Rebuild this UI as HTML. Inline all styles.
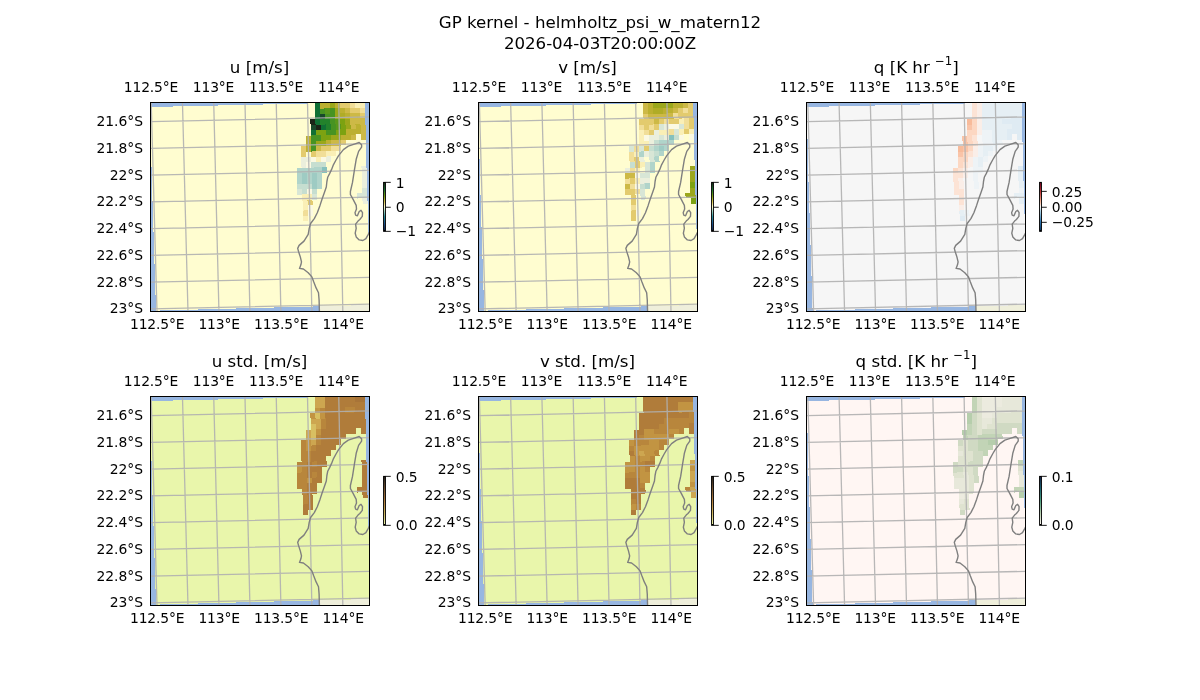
<!DOCTYPE html>
<html lang="en"><head><meta charset="utf-8"><title>GP kernel - helmholtz_psi_w_matern12</title>
<style>html,body{margin:0;padding:0;background:#fff}body{width:1200px;height:700px;overflow:hidden}svg{display:block;will-change:transform}text{font-family:"DejaVu Sans","Liberation Sans",sans-serif;fill:#000}.t{font-size:16.67px}.k{font-size:13.89px;letter-spacing:-0.16px}.l{letter-spacing:0}</style></head><body>
<svg width="1200" height="700" viewBox="0 0 1200 700">
<rect width="1200" height="700" fill="#fff"/>
<text class="t" x="600" y="27.5" text-anchor="middle">GP kernel - helmholtz_psi_w_matern12</text>
<text class="t" x="600" y="49" text-anchor="middle" style="letter-spacing:-0.06px">2026-04-03T20:00:00Z</text>
<g transform="translate(150.5,102.5)">
<clipPath id="c0"><rect x="0" y="0" width="219" height="209"/></clipPath>
<g clip-path="url(#c0)"><g transform="translate(0,0)">
<rect x="-2" y="-2" width="223" height="213" fill="#97b6e1"/>
<polygon points="168.9,209 168.6,197.5 168,190.2 165.6,185.4 163.2,179.3 161.4,174.4 157.7,170.2 152.9,166.5 149,165.9 150.4,162.3 151,159.3 149.8,154.4 148,148.9 147.2,145.9 148.6,142.9 153.5,138.6 157.7,131.9 158.7,125.9 160.1,121 163.8,116.1 166.8,110.2 169.5,102.9 171.5,96.8 174,89.7 175.8,84.5 176.4,79 177.2,74.8 179.1,71.1 181.1,66.9 183,62.1 185.5,57.5 188.1,53.1 192.9,47.1 197.8,43.7 203.9,41.6 208.7,40 211.1,42.2 211.1,44.6 208.1,48.9 205.7,56.8 203.9,67.7 202,79.9 199.9,89 199.9,92 202.6,96.9 205.7,102.9 206,106.6 204.5,110.2 205.1,112.6 206.9,113.3 208.7,109 210.5,107.8 212,110.2 211.8,113.9 209.3,117 207.5,118.6 205.1,121.6 205.7,125.9 204.7,130.7 205.7,134.4 208.7,137.4 212.4,138 215.4,136.2 217.8,131.9 220,127.5 221,211" fill="#efefdb"/>
<polygon points="5.5,208.1 5.33,202.74 5.16,197.38 4.99,192.03 4.82,186.67 4.65,181.31 4.48,175.95 4.31,170.59 4.14,165.24 3.97,159.88 3.8,154.52 3.63,149.16 3.46,143.81 3.29,138.45 3.12,133.09 2.95,127.73 2.78,122.37 2.61,117.02 2.44,111.66 2.27,106.3 2.1,100.94 1.93,95.58 1.76,90.23 1.59,84.87 1.42,79.51 1.25,74.15 1.11,68.79 0.99,63.44 0.88,58.08 0.76,52.72 0.64,47.36 0.52,42.01 0.41,36.65 0.29,31.29 0.17,25.93 0.05,20.57 -0.06,15.22 -0.18,9.86 -0.3,4.5 214.47,-0.25 214.6,5.09 214.72,10.42 214.85,15.76 214.97,21.09 215.1,26.43 215.22,31.76 215.35,37.1 215.47,42.43 215.6,47.77 215.73,53.11 215.85,58.44 215.98,63.78 216.12,69.11 216.28,74.45 216.44,79.78 216.6,85.12 216.77,90.45 216.93,95.79 217.09,101.12 217.25,106.46 217.41,111.8 217.57,117.13 217.73,122.47 217.89,127.8 218.05,133.14 218.22,138.47 218.38,143.81 218.54,149.14 218.7,154.48 218.86,159.82 219.02,165.15 219.18,170.49 219.34,175.82 219.51,181.16 219.67,186.49 219.83,191.83 219.99,197.16 220.15,202.5" fill="#fffdd0" shape-rendering="crispEdges"/>
<g shape-rendering="crispEdges">
<polygon points="164.52,0.85 169.52,0.74 169.64,6.08 164.65,6.2" fill="#107034"/>
<polygon points="169.52,0.74 174.51,0.63 174.64,5.97 169.64,6.08" fill="#bcb030"/>
<polygon points="174.51,0.63 179.51,0.52 179.63,5.86 174.64,5.97" fill="#bcb030"/>
<polygon points="179.51,0.52 184.5,0.41 184.63,5.75 179.63,5.86" fill="#9ba71b"/>
<polygon points="184.5,0.41 189.5,0.3 189.62,5.64 184.63,5.75" fill="#bcb030"/>
<polygon points="189.5,0.3 194.49,0.19 194.62,5.53 189.62,5.64" fill="#e3cb6e"/>
<polygon points="194.49,0.19 199.49,0.08 199.61,5.42 194.62,5.53" fill="#e3cb6e"/>
<polygon points="199.49,0.08 204.48,-0.03 204.61,5.31 199.61,5.42" fill="#f1de98"/>
<polygon points="204.48,-0.03 209.48,-0.14 209.6,5.2 204.61,5.31" fill="#faefb6"/>
<polygon points="209.48,-0.14 214.47,-0.25 214.6,5.09 209.6,5.2" fill="#faefb6"/>
<polygon points="164.65,6.2 169.64,6.08 169.77,11.42 164.77,11.54" fill="#107034"/>
<polygon points="169.64,6.08 174.64,5.97 174.76,11.31 169.77,11.42" fill="#479322"/>
<polygon points="174.64,5.97 179.63,5.86 179.76,11.2 174.76,11.31" fill="#5a981b"/>
<polygon points="179.63,5.86 184.63,5.75 184.75,11.09 179.76,11.2" fill="#479322"/>
<polygon points="184.63,5.75 189.62,5.64 189.75,10.98 184.75,11.09" fill="#9ba71b"/>
<polygon points="189.62,5.64 194.62,5.53 194.74,10.87 189.75,10.98" fill="#bcb030"/>
<polygon points="194.62,5.53 199.61,5.42 199.74,10.76 194.74,10.87" fill="#cdb946"/>
<polygon points="199.61,5.42 204.61,5.31 204.73,10.64 199.74,10.76" fill="#e3cb6e"/>
<polygon points="204.61,5.31 209.6,5.2 209.73,10.53 204.73,10.64" fill="#e3cb6e"/>
<polygon points="209.6,5.2 214.6,5.09 214.72,10.42 209.73,10.53" fill="#f1de98"/>
<polygon points="164.77,11.54 169.77,11.42 169.89,16.76 164.89,16.88" fill="#107034"/>
<polygon points="169.77,11.42 174.76,11.31 174.89,16.65 169.89,16.76" fill="#18482a"/>
<polygon points="174.76,11.31 179.76,11.2 179.88,16.54 174.89,16.65" fill="#479322"/>
<polygon points="179.76,11.2 184.75,11.09 184.88,16.43 179.88,16.54" fill="#479322"/>
<polygon points="184.75,11.09 189.75,10.98 189.87,16.32 184.88,16.43" fill="#9ba71b"/>
<polygon points="189.75,10.98 194.74,10.87 194.87,16.2 189.87,16.32" fill="#b0ac26"/>
<polygon points="194.74,10.87 199.74,10.76 199.86,16.09 194.87,16.2" fill="#bcb030"/>
<polygon points="199.74,10.76 204.73,10.64 204.86,15.98 199.86,16.09" fill="#cdb946"/>
<polygon points="204.73,10.64 209.73,10.53 209.85,15.87 204.86,15.98" fill="#cdb946"/>
<polygon points="209.73,10.53 214.72,10.42 214.85,15.76 209.85,15.87" fill="#e3cb6e"/>
<polygon points="159.9,16.99 164.89,16.88 165.02,22.22 160.02,22.33" fill="#1b2517"/>
<polygon points="164.89,16.88 169.89,16.76 170.01,22.11 165.02,22.22" fill="#107034"/>
<polygon points="169.89,16.76 174.89,16.65 175.01,21.99 170.01,22.11" fill="#23822b"/>
<polygon points="174.89,16.65 179.88,16.54 180,21.88 175.01,21.99" fill="#23822b"/>
<polygon points="179.88,16.54 184.88,16.43 185,21.77 180,21.88" fill="#479322"/>
<polygon points="184.88,16.43 189.87,16.32 190,21.65 185,21.77" fill="#5a981b"/>
<polygon points="189.87,16.32 194.87,16.2 194.99,21.54 190,21.65" fill="#7ca211"/>
<polygon points="194.87,16.2 199.86,16.09 199.99,21.43 194.99,21.54" fill="#9ba71b"/>
<polygon points="199.86,16.09 204.86,15.98 204.98,21.32 199.99,21.43" fill="#cdb946"/>
<polygon points="204.86,15.98 209.85,15.87 209.98,21.2 204.98,21.32" fill="#cdb946"/>
<polygon points="209.85,15.87 214.85,15.76 214.97,21.09 209.98,21.2" fill="#cdb946"/>
<polygon points="160.02,22.33 165.02,22.22 165.14,27.56 160.15,27.67" fill="#18482a"/>
<polygon points="165.02,22.22 170.01,22.11 170.14,27.45 165.14,27.56" fill="#1b2517"/>
<polygon points="170.01,22.11 175.01,21.99 175.13,27.33 170.14,27.45" fill="#107034"/>
<polygon points="175.01,21.99 180,21.88 180.13,27.22 175.13,27.33" fill="#23822b"/>
<polygon points="180,21.88 185,21.77 185.12,27.11 180.13,27.22" fill="#479322"/>
<polygon points="185,21.77 190,21.65 190.12,26.99 185.12,27.11" fill="#5a981b"/>
<polygon points="190,21.65 194.99,21.54 195.12,26.88 190.12,26.99" fill="#7ca211"/>
<polygon points="194.99,21.54 199.99,21.43 200.11,26.77 195.12,26.88" fill="#9ba71b"/>
<polygon points="199.99,21.43 204.98,21.32 205.11,26.65 200.11,26.77" fill="#cdb946"/>
<polygon points="204.98,21.32 209.98,21.2 210.1,26.54 205.11,26.65" fill="#bcb030"/>
<polygon points="209.98,21.2 214.97,21.09 215.1,26.43 210.1,26.54" fill="#cdb946"/>
<polygon points="160.15,27.67 165.14,27.56 165.27,32.9 160.27,33.01" fill="#107034"/>
<polygon points="165.14,27.56 170.14,27.45 170.26,32.79 165.27,32.9" fill="#7ca211"/>
<polygon points="170.14,27.45 175.13,27.33 175.26,32.67 170.26,32.79" fill="#7ca211"/>
<polygon points="175.13,27.33 180.13,27.22 180.25,32.56 175.26,32.67" fill="#479322"/>
<polygon points="180.13,27.22 185.12,27.11 185.25,32.44 180.25,32.56" fill="#479322"/>
<polygon points="185.12,27.11 190.12,26.99 190.24,32.33 185.25,32.44" fill="#7ca211"/>
<polygon points="190.12,26.99 195.12,26.88 195.24,32.22 190.24,32.33" fill="#7ca211"/>
<polygon points="195.12,26.88 200.11,26.77 200.24,32.1 195.24,32.22" fill="#bcb030"/>
<polygon points="200.11,26.77 205.11,26.65 205.23,31.99 200.24,32.1" fill="#bcb030"/>
<polygon points="205.11,26.65 210.1,26.54 210.23,31.88 205.23,31.99" fill="#bcb030"/>
<polygon points="210.1,26.54 215.1,26.43 215.22,31.76 210.23,31.88" fill="#cdb946"/>
<polygon points="155.27,33.13 160.27,33.01 160.39,38.35 155.4,38.47" fill="#bcb030"/>
<polygon points="160.27,33.01 165.27,32.9 165.39,38.24 160.39,38.35" fill="#479322"/>
<polygon points="165.27,32.9 170.26,32.79 170.39,38.13 165.39,38.24" fill="#479322"/>
<polygon points="170.26,32.79 175.26,32.67 175.38,38.01 170.39,38.13" fill="#7ca211"/>
<polygon points="175.26,32.67 180.25,32.56 180.38,37.9 175.38,38.01" fill="#7ca211"/>
<polygon points="180.25,32.56 185.25,32.44 185.37,37.78 180.38,37.9" fill="#9ba71b"/>
<polygon points="185.25,32.44 190.24,32.33 190.37,37.67 185.37,37.78" fill="#9ba71b"/>
<polygon points="190.24,32.33 195.24,32.22 195.37,37.56 190.37,37.67" fill="#bcb030"/>
<polygon points="195.24,32.22 200.24,32.1 200.36,37.44 195.37,37.56" fill="#bcb030"/>
<polygon points="200.24,32.1 205.23,31.99 205.36,37.33 200.36,37.44" fill="#cdb946"/>
<polygon points="210.23,31.88 215.22,31.76 215.35,37.1 210.35,37.21" fill="#cdb946"/>
<polygon points="155.4,38.47 160.39,38.35 160.52,43.7 155.52,43.81" fill="#bcb030"/>
<polygon points="160.39,38.35 165.39,38.24 165.51,43.58 160.52,43.7" fill="#479322"/>
<polygon points="165.39,38.24 170.39,38.13 170.51,43.47 165.51,43.58" fill="#9ba71b"/>
<polygon points="170.39,38.13 175.38,38.01 175.51,43.35 170.51,43.47" fill="#9ba71b"/>
<polygon points="175.38,38.01 180.38,37.9 180.5,43.24 175.51,43.35" fill="#bcb030"/>
<polygon points="180.38,37.9 185.37,37.78 185.5,43.12 180.5,43.24" fill="#cdb946"/>
<polygon points="185.37,37.78 190.37,37.67 190.49,43.01 185.5,43.12" fill="#cdb946"/>
<polygon points="190.37,37.67 195.37,37.56 195.49,42.89 190.49,43.01" fill="#e3cb6e"/>
<polygon points="150.52,43.92 155.52,43.81 155.64,49.15 150.65,49.27" fill="#e3cb6e"/>
<polygon points="155.52,43.81 160.52,43.7 160.64,49.04 155.64,49.15" fill="#bcb030"/>
<polygon points="160.52,43.7 165.51,43.58 165.64,48.92 160.64,49.04" fill="#479322"/>
<polygon points="165.51,43.58 170.51,43.47 170.63,48.81 165.64,48.92" fill="#cdb946"/>
<polygon points="170.51,43.47 175.51,43.35 175.63,48.69 170.63,48.81" fill="#e3cb6e"/>
<polygon points="175.51,43.35 180.5,43.24 180.63,48.58 175.63,48.69" fill="#e3cb6e"/>
<polygon points="180.5,43.24 185.5,43.12 185.62,48.46 180.63,48.58" fill="#f1de98"/>
<polygon points="185.5,43.12 190.49,43.01 190.62,48.35 185.62,48.46" fill="#f1de98"/>
<polygon points="150.65,49.27 155.64,49.15 155.77,54.49 150.77,54.61" fill="#e3cb6e"/>
<polygon points="160.64,49.04 165.64,48.92 165.76,54.26 160.76,54.38" fill="#e3cb6e"/>
<polygon points="165.64,48.92 170.63,48.81 170.76,54.15 165.76,54.26" fill="#f1de98"/>
<polygon points="170.63,48.81 175.63,48.69 175.75,54.03 170.76,54.15" fill="#f1de98"/>
<polygon points="175.63,48.69 180.63,48.58 180.75,53.91 175.75,54.03" fill="#faefb6"/>
<polygon points="180.63,48.58 185.62,48.46 185.75,53.8 180.75,53.91" fill="#faefb6"/>
<polygon points="150.77,54.61 155.77,54.49 155.89,59.84 150.89,59.95" fill="#ebefdc"/>
<polygon points="155.77,54.49 160.76,54.38 160.89,59.72 155.89,59.84" fill="#ebefdc"/>
<polygon points="160.76,54.38 165.76,54.26 165.88,59.6 160.89,59.72" fill="#fbf9e2"/>
<polygon points="165.76,54.26 170.76,54.15 170.88,59.49 165.88,59.6" fill="#faefb6"/>
<polygon points="170.76,54.15 175.75,54.03 175.88,59.37 170.88,59.49" fill="#fbf9e2"/>
<polygon points="175.75,54.03 180.75,53.91 180.87,59.25 175.88,59.37" fill="#ebefdc"/>
<polygon points="150.89,59.95 155.89,59.84 156.01,65.18 151.02,65.29" fill="#ebefdc"/>
<polygon points="155.89,59.84 160.89,59.72 161.01,65.06 156.01,65.18" fill="#fbf9e2"/>
<polygon points="160.89,59.72 165.88,59.6 166.01,64.94 161.01,65.06" fill="#c6ded0"/>
<polygon points="165.88,59.6 170.88,59.49 171.01,64.83 166.01,64.94" fill="#c6ded0"/>
<polygon points="170.88,59.49 175.88,59.37 176,64.71 171.01,64.83" fill="#c6ded0"/>
<polygon points="146.02,65.41 151.02,65.29 151.16,70.64 146.16,70.75" fill="#b0d4ca"/>
<polygon points="151.02,65.29 156.01,65.18 156.16,70.52 151.16,70.64" fill="#b0d4ca"/>
<polygon points="156.01,65.18 161.01,65.06 161.15,70.4 156.16,70.52" fill="#b0d4ca"/>
<polygon points="161.01,65.06 166.01,64.94 166.15,70.28 161.15,70.4" fill="#b0d4ca"/>
<polygon points="166.01,64.94 171.01,64.83 171.15,70.17 166.15,70.28" fill="#b0d4ca"/>
<polygon points="171.01,64.83 176,64.71 176.15,70.05 171.15,70.17" fill="#86c1bd"/>
<polygon points="210.98,63.89 215.98,63.78 216.12,69.11 211.12,69.23" fill="#ebefdc"/>
<polygon points="146.16,70.75 151.16,70.64 151.32,75.98 146.33,76.1" fill="#b0d4ca"/>
<polygon points="151.16,70.64 156.16,70.52 156.32,75.86 151.32,75.98" fill="#9ecbc3"/>
<polygon points="156.16,70.52 161.15,70.4 161.32,75.74 156.32,75.86" fill="#b0d4ca"/>
<polygon points="161.15,70.4 166.15,70.28 166.31,75.62 161.32,75.74" fill="#9ecbc3"/>
<polygon points="166.15,70.28 171.15,70.17 171.31,75.51 166.31,75.62" fill="#b0d4ca"/>
<polygon points="211.12,69.23 216.12,69.11 216.28,74.45 211.28,74.57" fill="#ebefdc"/>
<polygon points="146.33,76.1 151.32,75.98 151.49,81.32 146.49,81.44" fill="#b0d4ca"/>
<polygon points="151.32,75.98 156.32,75.86 156.48,81.2 151.49,81.32" fill="#9ecbc3"/>
<polygon points="156.32,75.86 161.32,75.74 161.48,81.08 156.48,81.2" fill="#b0d4ca"/>
<polygon points="161.32,75.74 166.31,75.62 166.48,80.97 161.48,81.08" fill="#9ecbc3"/>
<polygon points="166.31,75.62 171.31,75.51 171.47,80.85 166.48,80.97" fill="#b0d4ca"/>
<polygon points="211.28,74.57 216.28,74.45 216.44,79.78 211.45,79.9" fill="#ebefdc"/>
<polygon points="146.49,81.44 151.49,81.32 151.65,86.66 146.66,86.78" fill="#c6ded0"/>
<polygon points="151.49,81.32 156.48,81.2 156.65,86.54 151.65,86.66" fill="#c6ded0"/>
<polygon points="156.48,81.2 161.48,81.08 161.64,86.43 156.65,86.54" fill="#c6ded0"/>
<polygon points="161.48,81.08 166.48,80.97 166.64,86.31 161.64,86.43" fill="#9ecbc3"/>
<polygon points="166.48,80.97 171.47,80.85 171.64,86.19 166.64,86.31" fill="#b0d4ca"/>
<polygon points="211.45,79.9 216.44,79.78 216.6,85.12 211.61,85.24" fill="#ebefdc"/>
<polygon points="146.66,86.78 151.65,86.66 151.82,92 146.82,92.12" fill="#d8e6d6"/>
<polygon points="151.65,86.66 156.65,86.54 156.81,91.89 151.82,92" fill="#c6ded0"/>
<polygon points="156.65,86.54 161.64,86.43 161.81,91.77 156.81,91.89" fill="#fbf9e2"/>
<polygon points="161.64,86.43 166.64,86.31 166.8,91.65 161.81,91.77" fill="#c6ded0"/>
<polygon points="211.61,85.24 216.6,85.12 216.77,90.45 211.77,90.57" fill="#d8e6d6"/>
<polygon points="151.82,92 156.81,91.89 156.98,97.23 151.98,97.35" fill="#faefb6"/>
<polygon points="156.81,91.89 161.81,91.77 161.97,97.11 156.98,97.23" fill="#faefb6"/>
<polygon points="161.81,91.77 166.8,91.65 166.97,96.99 161.97,97.11" fill="#d8e6d6"/>
<polygon points="206.77,90.69 211.77,90.57 211.93,95.91 206.93,96.03" fill="#d8e6d6"/>
<polygon points="211.77,90.57 216.77,90.45 216.93,95.79 211.93,95.91" fill="#d8e6d6"/>
<polygon points="151.98,97.35 156.98,97.23 157.14,102.57 152.14,102.69" fill="#faefb6"/>
<polygon points="156.98,97.23 161.97,97.11 162.14,102.45 157.14,102.57" fill="#e3cb6e"/>
<polygon points="211.93,95.91 216.93,95.79 217.09,101.12 212.09,101.25" fill="#ebefdc"/>
<polygon points="152.14,102.69 157.14,102.57 157.3,107.91 152.31,108.03" fill="#faefb6"/>
<polygon points="157.14,102.57 162.14,102.45 162.3,107.79 157.3,107.91" fill="#fbf9e2"/>
<polygon points="152.31,108.03 157.3,107.91 157.47,113.25 152.47,113.37" fill="#f1de98"/>
<polygon points="157.3,107.91 162.3,107.79 162.46,113.13 157.47,113.25" fill="#fbf9e2"/>
<polygon points="152.47,113.37 157.47,113.25 157.63,118.59 152.64,118.72" fill="#faefb6"/>
</g>
<path d="M0.7,0L6.5,209M31.96,0L37.47,209M63.22,0L68.44,209M94.48,0L99.41,209M125.74,0L130.38,209M157,0L161.35,209M188.26,0L192.32,209M219.52,0L223.29,209M0,19.2L219,14.3M0,45.95L219,41.05M0,72.7L219,67.8M0,99.45L219,94.55M0,126.2L219,121.3M0,152.95L219,148.05M0,179.7L219,174.8M0,206.45L219,201.55" stroke="#b0b0b0" stroke-width="1.3" fill="none" opacity="0.9"/>
<polyline points="168.9,209 168.6,197.5 168,190.2 165.6,185.4 163.2,179.3 161.4,174.4 157.7,170.2 152.9,166.5 149,165.9 150.4,162.3 151,159.3 149.8,154.4 148,148.9 147.2,145.9 148.6,142.9 153.5,138.6 157.7,131.9 158.7,125.9 160.1,121 163.8,116.1 166.8,110.2 169.5,102.9 171.5,96.8 174,89.7 175.8,84.5 176.4,79 177.2,74.8 179.1,71.1 181.1,66.9 183,62.1 185.5,57.5 188.1,53.1 192.9,47.1 197.8,43.7 203.9,41.6 208.7,40 211.1,42.2 211.1,44.6 208.1,48.9 205.7,56.8 203.9,67.7 202,79.9 199.9,89 199.9,92 202.6,96.9 205.7,102.9 206,106.6 204.5,110.2 205.1,112.6 206.9,113.3 208.7,109 210.5,107.8 212,110.2 211.8,113.9 209.3,117 207.5,118.6 205.1,121.6 205.7,125.9 204.7,130.7 205.7,134.4 208.7,137.4 212.4,138 215.4,136.2 217.8,131.9 220,127.5" fill="none" stroke="#7f7f7f" stroke-width="1.4" stroke-linejoin="round"/>
</g></g>
<rect x="0" y="0" width="219" height="209" fill="none" stroke="#000" stroke-width="1" shape-rendering="crispEdges"/>
<text class="t" x="109" y="-29.6" text-anchor="middle">u [m/s]</text>
<text class="k" x="0.5" y="-10.5" text-anchor="middle">112.5°E</text>
<text class="k" x="63.04" y="-10.5" text-anchor="middle">113°E</text>
<text class="k" x="125.58" y="-10.5" text-anchor="middle">113.5°E</text>
<text class="k" x="188.12" y="-10.5" text-anchor="middle">114°E</text>
<text class="k" x="6.65" y="226.1" text-anchor="middle">112.5°E</text>
<text class="k" x="68.65" y="226.1" text-anchor="middle">113°E</text>
<text class="k" x="130.65" y="226.1" text-anchor="middle">113.5°E</text>
<text class="k" x="192.65" y="226.1" text-anchor="middle">114°E</text>
<text class="k l" x="-7.4" y="23.5" text-anchor="end">21.6°S</text>
<text class="k l" x="-7.4" y="50.25" text-anchor="end">21.8°S</text>
<text class="k l" x="-7.4" y="77" text-anchor="end">22°S</text>
<text class="k l" x="-7.4" y="103.75" text-anchor="end">22.2°S</text>
<text class="k l" x="-7.4" y="130.5" text-anchor="end">22.4°S</text>
<text class="k l" x="-7.4" y="157.25" text-anchor="end">22.6°S</text>
<text class="k l" x="-7.4" y="184" text-anchor="end">22.8°S</text>
<text class="k l" x="-7.4" y="210.75" text-anchor="end">23°S</text>
<linearGradient id="g0" x1="0" y1="1" x2="0" y2="0"><stop offset="0" stop-color="#112040"/><stop offset="0.15" stop-color="#1c4f8a"/><stop offset="0.3" stop-color="#2a8e99"/><stop offset="0.42" stop-color="#a6d2c0"/><stop offset="0.5" stop-color="#fffdcc"/><stop offset="0.6" stop-color="#d6c153"/><stop offset="0.72" stop-color="#799f0f"/><stop offset="0.85" stop-color="#14712f"/><stop offset="1" stop-color="#172313"/></linearGradient>
<rect x="233.05" y="79.85" width="1.9" height="49" fill="url(#g0)" stroke="#000" stroke-width="0.9"/>
<path d="M234.95,128.85h5.3" stroke="#000" stroke-width="0.9"/>
<text class="k" x="245.35" y="133.25">−1</text>
<path d="M234.95,104.75h5.3" stroke="#000" stroke-width="0.9"/>
<text class="k" x="245.35" y="109.85">0</text>
<path d="M234.95,79.85h5.3" stroke="#000" stroke-width="0.9"/>
<text class="k" x="245.35" y="85.05">1</text>
</g>
<g transform="translate(478.5,102.5)">
<clipPath id="c1"><rect x="0" y="0" width="219" height="209"/></clipPath>
<g clip-path="url(#c1)"><g transform="translate(0.17,0)">
<rect x="-2" y="-2" width="223" height="213" fill="#97b6e1"/>
<polygon points="168.9,209 168.6,197.5 168,190.2 165.6,185.4 163.2,179.3 161.4,174.4 157.7,170.2 152.9,166.5 149,165.9 150.4,162.3 151,159.3 149.8,154.4 148,148.9 147.2,145.9 148.6,142.9 153.5,138.6 157.7,131.9 158.7,125.9 160.1,121 163.8,116.1 166.8,110.2 169.5,102.9 171.5,96.8 174,89.7 175.8,84.5 176.4,79 177.2,74.8 179.1,71.1 181.1,66.9 183,62.1 185.5,57.5 188.1,53.1 192.9,47.1 197.8,43.7 203.9,41.6 208.7,40 211.1,42.2 211.1,44.6 208.1,48.9 205.7,56.8 203.9,67.7 202,79.9 199.9,89 199.9,92 202.6,96.9 205.7,102.9 206,106.6 204.5,110.2 205.1,112.6 206.9,113.3 208.7,109 210.5,107.8 212,110.2 211.8,113.9 209.3,117 207.5,118.6 205.1,121.6 205.7,125.9 204.7,130.7 205.7,134.4 208.7,137.4 212.4,138 215.4,136.2 217.8,131.9 220,127.5 221,211" fill="#efefdb"/>
<polygon points="5.5,208.1 5.33,202.74 5.16,197.38 4.99,192.03 4.82,186.67 4.65,181.31 4.48,175.95 4.31,170.59 4.14,165.24 3.97,159.88 3.8,154.52 3.63,149.16 3.46,143.81 3.29,138.45 3.12,133.09 2.95,127.73 2.78,122.37 2.61,117.02 2.44,111.66 2.27,106.3 2.1,100.94 1.93,95.58 1.76,90.23 1.59,84.87 1.42,79.51 1.25,74.15 1.11,68.79 0.99,63.44 0.88,58.08 0.76,52.72 0.64,47.36 0.52,42.01 0.41,36.65 0.29,31.29 0.17,25.93 0.05,20.57 -0.06,15.22 -0.18,9.86 -0.3,4.5 214.47,-0.25 214.6,5.09 214.72,10.42 214.85,15.76 214.97,21.09 215.1,26.43 215.22,31.76 215.35,37.1 215.47,42.43 215.6,47.77 215.73,53.11 215.85,58.44 215.98,63.78 216.12,69.11 216.28,74.45 216.44,79.78 216.6,85.12 216.77,90.45 216.93,95.79 217.09,101.12 217.25,106.46 217.41,111.8 217.57,117.13 217.73,122.47 217.89,127.8 218.05,133.14 218.22,138.47 218.38,143.81 218.54,149.14 218.7,154.48 218.86,159.82 219.02,165.15 219.18,170.49 219.34,175.82 219.51,181.16 219.67,186.49 219.83,191.83 219.99,197.16 220.15,202.5" fill="#fffdd0" shape-rendering="crispEdges"/>
<g shape-rendering="crispEdges">
<polygon points="164.52,0.85 169.52,0.74 169.64,6.08 164.65,6.2" fill="#cdb946"/>
<polygon points="169.52,0.74 174.51,0.63 174.64,5.97 169.64,6.08" fill="#bcb030"/>
<polygon points="174.51,0.63 179.51,0.52 179.63,5.86 174.64,5.97" fill="#9ba71b"/>
<polygon points="179.51,0.52 184.5,0.41 184.63,5.75 179.63,5.86" fill="#9ba71b"/>
<polygon points="184.5,0.41 189.5,0.3 189.62,5.64 184.63,5.75" fill="#9ba71b"/>
<polygon points="189.5,0.3 194.49,0.19 194.62,5.53 189.62,5.64" fill="#9ba71b"/>
<polygon points="194.49,0.19 199.49,0.08 199.61,5.42 194.62,5.53" fill="#bcb030"/>
<polygon points="199.49,0.08 204.48,-0.03 204.61,5.31 199.61,5.42" fill="#bcb030"/>
<polygon points="204.48,-0.03 209.48,-0.14 209.6,5.2 204.61,5.31" fill="#cdb946"/>
<polygon points="209.48,-0.14 214.47,-0.25 214.6,5.09 209.6,5.2" fill="#e3cb6e"/>
<polygon points="164.65,6.2 169.64,6.08 169.77,11.42 164.77,11.54" fill="#cdb946"/>
<polygon points="169.64,6.08 174.64,5.97 174.76,11.31 169.77,11.42" fill="#bcb030"/>
<polygon points="174.64,5.97 179.63,5.86 179.76,11.2 174.76,11.31" fill="#b0ac26"/>
<polygon points="179.63,5.86 184.63,5.75 184.75,11.09 179.76,11.2" fill="#b0ac26"/>
<polygon points="184.63,5.75 189.62,5.64 189.75,10.98 184.75,11.09" fill="#bcb030"/>
<polygon points="189.62,5.64 194.62,5.53 194.74,10.87 189.75,10.98" fill="#bcb030"/>
<polygon points="194.62,5.53 199.61,5.42 199.74,10.76 194.74,10.87" fill="#cdb946"/>
<polygon points="199.61,5.42 204.61,5.31 204.73,10.64 199.74,10.76" fill="#e3cb6e"/>
<polygon points="204.61,5.31 209.6,5.2 209.73,10.53 204.73,10.64" fill="#f1de98"/>
<polygon points="209.6,5.2 214.6,5.09 214.72,10.42 209.73,10.53" fill="#e3cb6e"/>
<polygon points="164.77,11.54 169.77,11.42 169.89,16.76 164.89,16.88" fill="#e3cb6e"/>
<polygon points="169.77,11.42 174.76,11.31 174.89,16.65 169.89,16.76" fill="#cdb946"/>
<polygon points="174.76,11.31 179.76,11.2 179.88,16.54 174.89,16.65" fill="#cdb946"/>
<polygon points="179.76,11.2 184.75,11.09 184.88,16.43 179.88,16.54" fill="#cdb946"/>
<polygon points="184.75,11.09 189.75,10.98 189.87,16.32 184.88,16.43" fill="#cdb946"/>
<polygon points="189.75,10.98 194.74,10.87 194.87,16.2 189.87,16.32" fill="#cdb946"/>
<polygon points="194.74,10.87 199.74,10.76 199.86,16.09 194.87,16.2" fill="#f1de98"/>
<polygon points="199.74,10.76 204.73,10.64 204.86,15.98 199.86,16.09" fill="#e3cb6e"/>
<polygon points="204.73,10.64 209.73,10.53 209.85,15.87 204.86,15.98" fill="#e3cb6e"/>
<polygon points="209.73,10.53 214.72,10.42 214.85,15.76 209.85,15.87" fill="#e3cb6e"/>
<polygon points="159.9,16.99 164.89,16.88 165.02,22.22 160.02,22.33" fill="#e3cb6e"/>
<polygon points="164.89,16.88 169.89,16.76 170.01,22.11 165.02,22.22" fill="#e3cb6e"/>
<polygon points="169.89,16.76 174.89,16.65 175.01,21.99 170.01,22.11" fill="#e3cb6e"/>
<polygon points="174.89,16.65 179.88,16.54 180,21.88 175.01,21.99" fill="#cdb946"/>
<polygon points="179.88,16.54 184.88,16.43 185,21.77 180,21.88" fill="#e3cb6e"/>
<polygon points="184.88,16.43 189.87,16.32 190,21.65 185,21.77" fill="#f1de98"/>
<polygon points="189.87,16.32 194.87,16.2 194.99,21.54 190,21.65" fill="#e3cb6e"/>
<polygon points="194.87,16.2 199.86,16.09 199.99,21.43 194.99,21.54" fill="#e3cb6e"/>
<polygon points="199.86,16.09 204.86,15.98 204.98,21.32 199.99,21.43" fill="#faefb6"/>
<polygon points="204.86,15.98 209.85,15.87 209.98,21.2 204.98,21.32" fill="#f1de98"/>
<polygon points="209.85,15.87 214.85,15.76 214.97,21.09 209.98,21.2" fill="#e3cb6e"/>
<polygon points="160.02,22.33 165.02,22.22 165.14,27.56 160.15,27.67" fill="#f1de98"/>
<polygon points="165.02,22.22 170.01,22.11 170.14,27.45 165.14,27.56" fill="#e3cb6e"/>
<polygon points="170.01,22.11 175.01,21.99 175.13,27.33 170.14,27.45" fill="#f1de98"/>
<polygon points="175.01,21.99 180,21.88 180.13,27.22 175.13,27.33" fill="#e3cb6e"/>
<polygon points="180,21.88 185,21.77 185.12,27.11 180.13,27.22" fill="#d8e6d6"/>
<polygon points="185,21.77 190,21.65 190.12,26.99 185.12,27.11" fill="#ebefdc"/>
<polygon points="190,21.65 194.99,21.54 195.12,26.88 190.12,26.99" fill="#fbf9e2"/>
<polygon points="194.99,21.54 199.99,21.43 200.11,26.77 195.12,26.88" fill="#fbf9e2"/>
<polygon points="199.99,21.43 204.98,21.32 205.11,26.65 200.11,26.77" fill="#d8e6d6"/>
<polygon points="204.98,21.32 209.98,21.2 210.1,26.54 205.11,26.65" fill="#f1de98"/>
<polygon points="209.98,21.2 214.97,21.09 215.1,26.43 210.1,26.54" fill="#e3cb6e"/>
<polygon points="160.15,27.67 165.14,27.56 165.27,32.9 160.27,33.01" fill="#faefb6"/>
<polygon points="165.14,27.56 170.14,27.45 170.26,32.79 165.27,32.9" fill="#f1de98"/>
<polygon points="170.14,27.45 175.13,27.33 175.26,32.67 170.26,32.79" fill="#e3cb6e"/>
<polygon points="175.13,27.33 180.13,27.22 180.25,32.56 175.26,32.67" fill="#ebefdc"/>
<polygon points="180.13,27.22 185.12,27.11 185.25,32.44 180.25,32.56" fill="#faefb6"/>
<polygon points="185.12,27.11 190.12,26.99 190.24,32.33 185.25,32.44" fill="#faefb6"/>
<polygon points="190.12,26.99 195.12,26.88 195.24,32.22 190.24,32.33" fill="#f1de98"/>
<polygon points="195.12,26.88 200.11,26.77 200.24,32.1 195.24,32.22" fill="#d8e6d6"/>
<polygon points="200.11,26.77 205.11,26.65 205.23,31.99 200.24,32.1" fill="#faefb6"/>
<polygon points="205.11,26.65 210.1,26.54 210.23,31.88 205.23,31.99" fill="#e3cb6e"/>
<polygon points="210.1,26.54 215.1,26.43 215.22,31.76 210.23,31.88" fill="#faefb6"/>
<polygon points="160.27,33.01 165.27,32.9 165.39,38.24 160.39,38.35" fill="#faefb6"/>
<polygon points="165.27,32.9 170.26,32.79 170.39,38.13 165.39,38.24" fill="#fbf9e2"/>
<polygon points="170.26,32.79 175.26,32.67 175.38,38.01 170.39,38.13" fill="#ebefdc"/>
<polygon points="175.26,32.67 180.25,32.56 180.38,37.9 175.38,38.01" fill="#ebefdc"/>
<polygon points="180.25,32.56 185.25,32.44 185.37,37.78 180.38,37.9" fill="#d8e6d6"/>
<polygon points="185.25,32.44 190.24,32.33 190.37,37.67 185.37,37.78" fill="#ebefdc"/>
<polygon points="190.24,32.33 195.24,32.22 195.37,37.56 190.37,37.67" fill="#86c1bd"/>
<polygon points="195.24,32.22 200.24,32.1 200.36,37.44 195.37,37.56" fill="#c6ded0"/>
<polygon points="200.24,32.1 205.23,31.99 205.36,37.33 200.36,37.44" fill="#fbf9e2"/>
<polygon points="210.23,31.88 215.22,31.76 215.35,37.1 210.35,37.21" fill="#fbf9e2"/>
<polygon points="160.39,38.35 165.39,38.24 165.51,43.58 160.52,43.7" fill="#faefb6"/>
<polygon points="165.39,38.24 170.39,38.13 170.51,43.47 165.51,43.58" fill="#faefb6"/>
<polygon points="170.39,38.13 175.38,38.01 175.51,43.35 170.51,43.47" fill="#ebefdc"/>
<polygon points="175.38,38.01 180.38,37.9 180.5,43.24 175.51,43.35" fill="#c6ded0"/>
<polygon points="180.38,37.9 185.37,37.78 185.5,43.12 180.5,43.24" fill="#b0d4ca"/>
<polygon points="185.37,37.78 190.37,37.67 190.49,43.01 185.5,43.12" fill="#b0d4ca"/>
<polygon points="190.37,37.67 195.37,37.56 195.49,42.89 190.49,43.01" fill="#b0d4ca"/>
<polygon points="150.52,43.92 155.52,43.81 155.64,49.15 150.65,49.27" fill="#d8e6d6"/>
<polygon points="155.52,43.81 160.52,43.7 160.64,49.04 155.64,49.15" fill="#f1de98"/>
<polygon points="160.52,43.7 165.51,43.58 165.64,48.92 160.64,49.04" fill="#d8e6d6"/>
<polygon points="165.51,43.58 170.51,43.47 170.63,48.81 165.64,48.92" fill="#e3cb6e"/>
<polygon points="170.51,43.47 175.51,43.35 175.63,48.69 170.63,48.81" fill="#c6ded0"/>
<polygon points="175.51,43.35 180.5,43.24 180.63,48.58 175.63,48.69" fill="#b0d4ca"/>
<polygon points="180.5,43.24 185.5,43.12 185.62,48.46 180.63,48.58" fill="#9ecbc3"/>
<polygon points="185.5,43.12 190.49,43.01 190.62,48.35 185.62,48.46" fill="#b0d4ca"/>
<polygon points="150.65,49.27 155.64,49.15 155.77,54.49 150.77,54.61" fill="#f1de98"/>
<polygon points="155.64,49.15 160.64,49.04 160.76,54.38 155.77,54.49" fill="#faefb6"/>
<polygon points="160.64,49.04 165.64,48.92 165.76,54.26 160.76,54.38" fill="#b0d4ca"/>
<polygon points="165.64,48.92 170.63,48.81 170.76,54.15 165.76,54.26" fill="#ebefdc"/>
<polygon points="170.63,48.81 175.63,48.69 175.75,54.03 170.76,54.15" fill="#d8e6d6"/>
<polygon points="175.63,48.69 180.63,48.58 180.75,53.91 175.75,54.03" fill="#c6ded0"/>
<polygon points="180.63,48.58 185.62,48.46 185.75,53.8 180.75,53.91" fill="#b0d4ca"/>
<polygon points="150.77,54.61 155.77,54.49 155.89,59.84 150.89,59.95" fill="#f1de98"/>
<polygon points="155.77,54.49 160.76,54.38 160.89,59.72 155.89,59.84" fill="#e3cb6e"/>
<polygon points="160.76,54.38 165.76,54.26 165.88,59.6 160.89,59.72" fill="#ebefdc"/>
<polygon points="170.76,54.15 175.75,54.03 175.88,59.37 170.88,59.49" fill="#d8e6d6"/>
<polygon points="175.75,54.03 180.75,53.91 180.87,59.25 175.88,59.37" fill="#b0d4ca"/>
<polygon points="150.89,59.95 155.89,59.84 156.01,65.18 151.02,65.29" fill="#c6ded0"/>
<polygon points="155.89,59.84 160.89,59.72 161.01,65.06 156.01,65.18" fill="#e3cb6e"/>
<polygon points="160.89,59.72 165.88,59.6 166.01,64.94 161.01,65.06" fill="#faefb6"/>
<polygon points="165.88,59.6 170.88,59.49 171.01,64.83 166.01,64.94" fill="#d8e6d6"/>
<polygon points="170.88,59.49 175.88,59.37 176,64.71 171.01,64.83" fill="#b0d4ca"/>
<polygon points="146.02,65.41 151.02,65.29 151.16,70.64 146.16,70.75" fill="#ebefdc"/>
<polygon points="151.02,65.29 156.01,65.18 156.16,70.52 151.16,70.64" fill="#f1de98"/>
<polygon points="156.01,65.18 161.01,65.06 161.15,70.4 156.16,70.52" fill="#faefb6"/>
<polygon points="166.01,64.94 171.01,64.83 171.15,70.17 166.15,70.28" fill="#d8e6d6"/>
<polygon points="171.01,64.83 176,64.71 176.15,70.05 171.15,70.17" fill="#b0d4ca"/>
<polygon points="210.98,63.89 215.98,63.78 216.12,69.11 211.12,69.23" fill="#9ba71b"/>
<polygon points="146.16,70.75 151.16,70.64 151.32,75.98 146.33,76.1" fill="#cdb946"/>
<polygon points="151.16,70.64 156.16,70.52 156.32,75.86 151.32,75.98" fill="#cdb946"/>
<polygon points="156.16,70.52 161.15,70.4 161.32,75.74 156.32,75.86" fill="#fbf9e2"/>
<polygon points="161.15,70.4 166.15,70.28 166.31,75.62 161.32,75.74" fill="#d8e6d6"/>
<polygon points="166.15,70.28 171.15,70.17 171.31,75.51 166.31,75.62" fill="#d8e6d6"/>
<polygon points="211.12,69.23 216.12,69.11 216.28,74.45 211.28,74.57" fill="#9ba71b"/>
<polygon points="146.33,76.1 151.32,75.98 151.49,81.32 146.49,81.44" fill="#f1de98"/>
<polygon points="151.32,75.98 156.32,75.86 156.48,81.2 151.49,81.32" fill="#e3cb6e"/>
<polygon points="156.32,75.86 161.32,75.74 161.48,81.08 156.48,81.2" fill="#faefb6"/>
<polygon points="161.32,75.74 166.31,75.62 166.48,80.97 161.48,81.08" fill="#ebefdc"/>
<polygon points="166.31,75.62 171.31,75.51 171.47,80.85 166.48,80.97" fill="#ebefdc"/>
<polygon points="211.28,74.57 216.28,74.45 216.44,79.78 211.45,79.9" fill="#9ba71b"/>
<polygon points="146.49,81.44 151.49,81.32 151.65,86.66 146.66,86.78" fill="#cdb946"/>
<polygon points="151.49,81.32 156.48,81.2 156.65,86.54 151.65,86.66" fill="#f1de98"/>
<polygon points="156.48,81.2 161.48,81.08 161.64,86.43 156.65,86.54" fill="#fbf9e2"/>
<polygon points="161.48,81.08 166.48,80.97 166.64,86.31 161.64,86.43" fill="#c6ded0"/>
<polygon points="166.48,80.97 171.47,80.85 171.64,86.19 166.64,86.31" fill="#b0d4ca"/>
<polygon points="211.45,79.9 216.44,79.78 216.6,85.12 211.61,85.24" fill="#7ca211"/>
<polygon points="146.66,86.78 151.65,86.66 151.82,92 146.82,92.12" fill="#e3cb6e"/>
<polygon points="151.65,86.66 156.65,86.54 156.81,91.89 151.82,92" fill="#e3cb6e"/>
<polygon points="156.65,86.54 161.64,86.43 161.81,91.77 156.81,91.89" fill="#f1de98"/>
<polygon points="161.64,86.43 166.64,86.31 166.8,91.65 161.81,91.77" fill="#d8e6d6"/>
<polygon points="211.61,85.24 216.6,85.12 216.77,90.45 211.77,90.57" fill="#9ba71b"/>
<polygon points="151.82,92 156.81,91.89 156.98,97.23 151.98,97.35" fill="#e3cb6e"/>
<polygon points="161.81,91.77 166.8,91.65 166.97,96.99 161.97,97.11" fill="#d8e6d6"/>
<polygon points="206.77,90.69 211.77,90.57 211.93,95.91 206.93,96.03" fill="#9ba71b"/>
<polygon points="211.77,90.57 216.77,90.45 216.93,95.79 211.93,95.91" fill="#9ba71b"/>
<polygon points="151.98,97.35 156.98,97.23 157.14,102.57 152.14,102.69" fill="#e3cb6e"/>
<polygon points="211.93,95.91 216.93,95.79 217.09,101.12 212.09,101.25" fill="#7ca211"/>
<polygon points="152.14,102.69 157.14,102.57 157.3,107.91 152.31,108.03" fill="#f1de98"/>
<polygon points="152.31,108.03 157.3,107.91 157.47,113.25 152.47,113.37" fill="#e3cb6e"/>
<polygon points="157.3,107.91 162.3,107.79 162.46,113.13 157.47,113.25" fill="#fbf9e2"/>
<polygon points="152.47,113.37 157.47,113.25 157.63,118.59 152.64,118.72" fill="#e3cb6e"/>
</g>
<path d="M0.7,0L6.5,209M31.96,0L37.47,209M63.22,0L68.44,209M94.48,0L99.41,209M125.74,0L130.38,209M157,0L161.35,209M188.26,0L192.32,209M219.52,0L223.29,209M0,19.2L219,14.3M0,45.95L219,41.05M0,72.7L219,67.8M0,99.45L219,94.55M0,126.2L219,121.3M0,152.95L219,148.05M0,179.7L219,174.8M0,206.45L219,201.55" stroke="#b0b0b0" stroke-width="1.3" fill="none" opacity="0.9"/>
<polyline points="168.9,209 168.6,197.5 168,190.2 165.6,185.4 163.2,179.3 161.4,174.4 157.7,170.2 152.9,166.5 149,165.9 150.4,162.3 151,159.3 149.8,154.4 148,148.9 147.2,145.9 148.6,142.9 153.5,138.6 157.7,131.9 158.7,125.9 160.1,121 163.8,116.1 166.8,110.2 169.5,102.9 171.5,96.8 174,89.7 175.8,84.5 176.4,79 177.2,74.8 179.1,71.1 181.1,66.9 183,62.1 185.5,57.5 188.1,53.1 192.9,47.1 197.8,43.7 203.9,41.6 208.7,40 211.1,42.2 211.1,44.6 208.1,48.9 205.7,56.8 203.9,67.7 202,79.9 199.9,89 199.9,92 202.6,96.9 205.7,102.9 206,106.6 204.5,110.2 205.1,112.6 206.9,113.3 208.7,109 210.5,107.8 212,110.2 211.8,113.9 209.3,117 207.5,118.6 205.1,121.6 205.7,125.9 204.7,130.7 205.7,134.4 208.7,137.4 212.4,138 215.4,136.2 217.8,131.9 220,127.5" fill="none" stroke="#7f7f7f" stroke-width="1.4" stroke-linejoin="round"/>
</g></g>
<rect x="0" y="0" width="219" height="209" fill="none" stroke="#000" stroke-width="1" shape-rendering="crispEdges"/>
<text class="t" x="109" y="-29.6" text-anchor="middle">v [m/s]</text>
<text class="k" x="0.5" y="-10.5" text-anchor="middle">112.5°E</text>
<text class="k" x="63.04" y="-10.5" text-anchor="middle">113°E</text>
<text class="k" x="125.58" y="-10.5" text-anchor="middle">113.5°E</text>
<text class="k" x="188.12" y="-10.5" text-anchor="middle">114°E</text>
<text class="k" x="6.65" y="226.1" text-anchor="middle">112.5°E</text>
<text class="k" x="68.65" y="226.1" text-anchor="middle">113°E</text>
<text class="k" x="130.65" y="226.1" text-anchor="middle">113.5°E</text>
<text class="k" x="192.65" y="226.1" text-anchor="middle">114°E</text>
<text class="k l" x="-7.4" y="23.5" text-anchor="end">21.6°S</text>
<text class="k l" x="-7.4" y="50.25" text-anchor="end">21.8°S</text>
<text class="k l" x="-7.4" y="77" text-anchor="end">22°S</text>
<text class="k l" x="-7.4" y="103.75" text-anchor="end">22.2°S</text>
<text class="k l" x="-7.4" y="130.5" text-anchor="end">22.4°S</text>
<text class="k l" x="-7.4" y="157.25" text-anchor="end">22.6°S</text>
<text class="k l" x="-7.4" y="184" text-anchor="end">22.8°S</text>
<text class="k l" x="-7.4" y="210.75" text-anchor="end">23°S</text>
<linearGradient id="g1" x1="0" y1="1" x2="0" y2="0"><stop offset="0" stop-color="#112040"/><stop offset="0.15" stop-color="#1c4f8a"/><stop offset="0.3" stop-color="#2a8e99"/><stop offset="0.42" stop-color="#a6d2c0"/><stop offset="0.5" stop-color="#fffdcc"/><stop offset="0.6" stop-color="#d6c153"/><stop offset="0.72" stop-color="#799f0f"/><stop offset="0.85" stop-color="#14712f"/><stop offset="1" stop-color="#172313"/></linearGradient>
<rect x="233.05" y="79.85" width="1.9" height="49" fill="url(#g1)" stroke="#000" stroke-width="0.9"/>
<path d="M234.95,128.85h5.3" stroke="#000" stroke-width="0.9"/>
<text class="k" x="245.35" y="133.25">−1</text>
<path d="M234.95,104.75h5.3" stroke="#000" stroke-width="0.9"/>
<text class="k" x="245.35" y="109.85">0</text>
<path d="M234.95,79.85h5.3" stroke="#000" stroke-width="0.9"/>
<text class="k" x="245.35" y="85.05">1</text>
</g>
<g transform="translate(806.5,102.5)">
<clipPath id="c2"><rect x="0" y="0" width="219" height="209"/></clipPath>
<g clip-path="url(#c2)"><g transform="translate(0.6,0)">
<rect x="-2" y="-2" width="223" height="213" fill="#97b6e1"/>
<polygon points="168.9,209 168.6,197.5 168,190.2 165.6,185.4 163.2,179.3 161.4,174.4 157.7,170.2 152.9,166.5 149,165.9 150.4,162.3 151,159.3 149.8,154.4 148,148.9 147.2,145.9 148.6,142.9 153.5,138.6 157.7,131.9 158.7,125.9 160.1,121 163.8,116.1 166.8,110.2 169.5,102.9 171.5,96.8 174,89.7 175.8,84.5 176.4,79 177.2,74.8 179.1,71.1 181.1,66.9 183,62.1 185.5,57.5 188.1,53.1 192.9,47.1 197.8,43.7 203.9,41.6 208.7,40 211.1,42.2 211.1,44.6 208.1,48.9 205.7,56.8 203.9,67.7 202,79.9 199.9,89 199.9,92 202.6,96.9 205.7,102.9 206,106.6 204.5,110.2 205.1,112.6 206.9,113.3 208.7,109 210.5,107.8 212,110.2 211.8,113.9 209.3,117 207.5,118.6 205.1,121.6 205.7,125.9 204.7,130.7 205.7,134.4 208.7,137.4 212.4,138 215.4,136.2 217.8,131.9 220,127.5 221,211" fill="#efefdb"/>
<polygon points="5.5,208.1 5.33,202.74 5.16,197.38 4.99,192.03 4.82,186.67 4.65,181.31 4.48,175.95 4.31,170.59 4.14,165.24 3.97,159.88 3.8,154.52 3.63,149.16 3.46,143.81 3.29,138.45 3.12,133.09 2.95,127.73 2.78,122.37 2.61,117.02 2.44,111.66 2.27,106.3 2.1,100.94 1.93,95.58 1.76,90.23 1.59,84.87 1.42,79.51 1.25,74.15 1.11,68.79 0.99,63.44 0.88,58.08 0.76,52.72 0.64,47.36 0.52,42.01 0.41,36.65 0.29,31.29 0.17,25.93 0.05,20.57 -0.06,15.22 -0.18,9.86 -0.3,4.5 214.47,-0.25 214.6,5.09 214.72,10.42 214.85,15.76 214.97,21.09 215.1,26.43 215.22,31.76 215.35,37.1 215.47,42.43 215.6,47.77 215.73,53.11 215.85,58.44 215.98,63.78 216.12,69.11 216.28,74.45 216.44,79.78 216.6,85.12 216.77,90.45 216.93,95.79 217.09,101.12 217.25,106.46 217.41,111.8 217.57,117.13 217.73,122.47 217.89,127.8 218.05,133.14 218.22,138.47 218.38,143.81 218.54,149.14 218.7,154.48 218.86,159.82 219.02,165.15 219.18,170.49 219.34,175.82 219.51,181.16 219.67,186.49 219.83,191.83 219.99,197.16 220.15,202.5" fill="#f6f6f6" shape-rendering="crispEdges"/>
<g shape-rendering="crispEdges">
<polygon points="164.52,0.85 169.52,0.74 169.64,6.08 164.65,6.2" fill="#fce3d5"/>
<polygon points="169.52,0.74 174.51,0.63 174.64,5.97 169.64,6.08" fill="#faeee8"/>
<polygon points="174.51,0.63 179.51,0.52 179.63,5.86 174.64,5.97" fill="#e6eff4"/>
<polygon points="179.51,0.52 184.5,0.41 184.63,5.75 179.63,5.86" fill="#e6eff4"/>
<polygon points="184.5,0.41 189.5,0.3 189.62,5.64 184.63,5.75" fill="#e6eff4"/>
<polygon points="189.5,0.3 194.49,0.19 194.62,5.53 189.62,5.64" fill="#e6eff4"/>
<polygon points="194.49,0.19 199.49,0.08 199.61,5.42 194.62,5.53" fill="#e6eff4"/>
<polygon points="199.49,0.08 204.48,-0.03 204.61,5.31 199.61,5.42" fill="#e6eff4"/>
<polygon points="204.48,-0.03 209.48,-0.14 209.6,5.2 204.61,5.31" fill="#e6eff4"/>
<polygon points="209.48,-0.14 214.47,-0.25 214.6,5.09 209.6,5.2" fill="#e6eff4"/>
<polygon points="164.65,6.2 169.64,6.08 169.77,11.42 164.77,11.54" fill="#fce3d5"/>
<polygon points="169.64,6.08 174.64,5.97 174.76,11.31 169.77,11.42" fill="#faeee8"/>
<polygon points="174.64,5.97 179.63,5.86 179.76,11.2 174.76,11.31" fill="#e6eff4"/>
<polygon points="179.63,5.86 184.63,5.75 184.75,11.09 179.76,11.2" fill="#e6eff4"/>
<polygon points="184.63,5.75 189.62,5.64 189.75,10.98 184.75,11.09" fill="#e6eff4"/>
<polygon points="189.62,5.64 194.62,5.53 194.74,10.87 189.75,10.98" fill="#e6eff4"/>
<polygon points="194.62,5.53 199.61,5.42 199.74,10.76 194.74,10.87" fill="#e6eff4"/>
<polygon points="199.61,5.42 204.61,5.31 204.73,10.64 199.74,10.76" fill="#e6eff4"/>
<polygon points="204.61,5.31 209.6,5.2 209.73,10.53 204.73,10.64" fill="#e6eff4"/>
<polygon points="209.6,5.2 214.6,5.09 214.72,10.42 209.73,10.53" fill="#e6eff4"/>
<polygon points="164.77,11.54 169.77,11.42 169.89,16.76 164.89,16.88" fill="#fce3d5"/>
<polygon points="169.77,11.42 174.76,11.31 174.89,16.65 169.89,16.76" fill="#faeee8"/>
<polygon points="174.76,11.31 179.76,11.2 179.88,16.54 174.89,16.65" fill="#e6eff4"/>
<polygon points="179.76,11.2 184.75,11.09 184.88,16.43 179.88,16.54" fill="#e6eff4"/>
<polygon points="184.75,11.09 189.75,10.98 189.87,16.32 184.88,16.43" fill="#e6eff4"/>
<polygon points="189.75,10.98 194.74,10.87 194.87,16.2 189.87,16.32" fill="#e6eff4"/>
<polygon points="194.74,10.87 199.74,10.76 199.86,16.09 194.87,16.2" fill="#e6eff4"/>
<polygon points="199.74,10.76 204.73,10.64 204.86,15.98 199.86,16.09" fill="#e6eff4"/>
<polygon points="204.73,10.64 209.73,10.53 209.85,15.87 204.86,15.98" fill="#e6eff4"/>
<polygon points="209.73,10.53 214.72,10.42 214.85,15.76 209.85,15.87" fill="#e6eff4"/>
<polygon points="159.9,16.99 164.89,16.88 165.02,22.22 160.02,22.33" fill="#f7bb9b"/>
<polygon points="164.89,16.88 169.89,16.76 170.01,22.11 165.02,22.22" fill="#fcd7c2"/>
<polygon points="169.89,16.76 174.89,16.65 175.01,21.99 170.01,22.11" fill="#faeee8"/>
<polygon points="174.89,16.65 179.88,16.54 180,21.88 175.01,21.99" fill="#e6eff4"/>
<polygon points="179.88,16.54 184.88,16.43 185,21.77 180,21.88" fill="#e6eff4"/>
<polygon points="184.88,16.43 189.87,16.32 190,21.65 185,21.77" fill="#e6eff4"/>
<polygon points="189.87,16.32 194.87,16.2 194.99,21.54 190,21.65" fill="#e6eff4"/>
<polygon points="194.87,16.2 199.86,16.09 199.99,21.43 194.99,21.54" fill="#dfebf3"/>
<polygon points="199.86,16.09 204.86,15.98 204.98,21.32 199.99,21.43" fill="#dfebf3"/>
<polygon points="204.86,15.98 209.85,15.87 209.98,21.2 204.98,21.32" fill="#dfebf3"/>
<polygon points="209.85,15.87 214.85,15.76 214.97,21.09 209.98,21.2" fill="#dfebf3"/>
<polygon points="160.02,22.33 165.02,22.22 165.14,27.56 160.15,27.67" fill="#f9c4a8"/>
<polygon points="165.02,22.22 170.01,22.11 170.14,27.45 165.14,27.56" fill="#fcd7c2"/>
<polygon points="170.01,22.11 175.01,21.99 175.13,27.33 170.14,27.45" fill="#faeee8"/>
<polygon points="175.01,21.99 180,21.88 180.13,27.22 175.13,27.33" fill="#e6eff4"/>
<polygon points="180,21.88 185,21.77 185.12,27.11 180.13,27.22" fill="#e6eff4"/>
<polygon points="185,21.77 190,21.65 190.12,26.99 185.12,27.11" fill="#e6eff4"/>
<polygon points="190,21.65 194.99,21.54 195.12,26.88 190.12,26.99" fill="#e6eff4"/>
<polygon points="194.99,21.54 199.99,21.43 200.11,26.77 195.12,26.88" fill="#e6eff4"/>
<polygon points="199.99,21.43 204.98,21.32 205.11,26.65 200.11,26.77" fill="#e6eff4"/>
<polygon points="204.98,21.32 209.98,21.2 210.1,26.54 205.11,26.65" fill="#dfebf3"/>
<polygon points="209.98,21.2 214.97,21.09 215.1,26.43 210.1,26.54" fill="#dfebf3"/>
<polygon points="160.15,27.67 165.14,27.56 165.27,32.9 160.27,33.01" fill="#fcd7c2"/>
<polygon points="165.14,27.56 170.14,27.45 170.26,32.79 165.27,32.9" fill="#fcd7c2"/>
<polygon points="170.14,27.45 175.13,27.33 175.26,32.67 170.26,32.79" fill="#faeee8"/>
<polygon points="175.13,27.33 180.13,27.22 180.25,32.56 175.26,32.67" fill="#eef3f6"/>
<polygon points="180.13,27.22 185.12,27.11 185.25,32.44 180.25,32.56" fill="#eef3f6"/>
<polygon points="185.12,27.11 190.12,26.99 190.24,32.33 185.25,32.44" fill="#e6eff4"/>
<polygon points="190.12,26.99 195.12,26.88 195.24,32.22 190.24,32.33" fill="#e6eff4"/>
<polygon points="195.12,26.88 200.11,26.77 200.24,32.1 195.24,32.22" fill="#e6eff4"/>
<polygon points="200.11,26.77 205.11,26.65 205.23,31.99 200.24,32.1" fill="#dfebf3"/>
<polygon points="205.11,26.65 210.1,26.54 210.23,31.88 205.23,31.99" fill="#dfebf3"/>
<polygon points="210.1,26.54 215.1,26.43 215.22,31.76 210.23,31.88" fill="#dfebf3"/>
<polygon points="155.27,33.13 160.27,33.01 160.39,38.35 155.4,38.47" fill="#f9c4a8"/>
<polygon points="160.27,33.01 165.27,32.9 165.39,38.24 160.39,38.35" fill="#fcd7c2"/>
<polygon points="165.27,32.9 170.26,32.79 170.39,38.13 165.39,38.24" fill="#fce3d5"/>
<polygon points="175.26,32.67 180.25,32.56 180.38,37.9 175.38,38.01" fill="#eef3f6"/>
<polygon points="180.25,32.56 185.25,32.44 185.37,37.78 180.38,37.9" fill="#eef3f6"/>
<polygon points="185.25,32.44 190.24,32.33 190.37,37.67 185.37,37.78" fill="#e6eff4"/>
<polygon points="190.24,32.33 195.24,32.22 195.37,37.56 190.37,37.67" fill="#e6eff4"/>
<polygon points="195.24,32.22 200.24,32.1 200.36,37.44 195.37,37.56" fill="#e6eff4"/>
<polygon points="200.24,32.1 205.23,31.99 205.36,37.33 200.36,37.44" fill="#dfebf3"/>
<polygon points="210.23,31.88 215.22,31.76 215.35,37.1 210.35,37.21" fill="#dfebf3"/>
<polygon points="155.4,38.47 160.39,38.35 160.52,43.7 155.52,43.81" fill="#f9c4a8"/>
<polygon points="160.39,38.35 165.39,38.24 165.51,43.58 160.52,43.7" fill="#fcd7c2"/>
<polygon points="165.39,38.24 170.39,38.13 170.51,43.47 165.51,43.58" fill="#fce3d5"/>
<polygon points="175.38,38.01 180.38,37.9 180.5,43.24 175.51,43.35" fill="#eef3f6"/>
<polygon points="180.38,37.9 185.37,37.78 185.5,43.12 180.5,43.24" fill="#eef3f6"/>
<polygon points="185.37,37.78 190.37,37.67 190.49,43.01 185.5,43.12" fill="#e6eff4"/>
<polygon points="190.37,37.67 195.37,37.56 195.49,42.89 190.49,43.01" fill="#eef3f6"/>
<polygon points="150.52,43.92 155.52,43.81 155.64,49.15 150.65,49.27" fill="#f7bb9b"/>
<polygon points="155.52,43.81 160.52,43.7 160.64,49.04 155.64,49.15" fill="#f9c4a8"/>
<polygon points="160.52,43.7 165.51,43.58 165.64,48.92 160.64,49.04" fill="#fcd7c2"/>
<polygon points="165.51,43.58 170.51,43.47 170.63,48.81 165.64,48.92" fill="#faeee8"/>
<polygon points="170.51,43.47 175.51,43.35 175.63,48.69 170.63,48.81" fill="#eef3f6"/>
<polygon points="175.51,43.35 180.5,43.24 180.63,48.58 175.63,48.69" fill="#e6eff4"/>
<polygon points="180.5,43.24 185.5,43.12 185.62,48.46 180.63,48.58" fill="#e6eff4"/>
<polygon points="185.5,43.12 190.49,43.01 190.62,48.35 185.62,48.46" fill="#eef3f6"/>
<polygon points="150.65,49.27 155.64,49.15 155.77,54.49 150.77,54.61" fill="#f9c4a8"/>
<polygon points="155.64,49.15 160.64,49.04 160.76,54.38 155.77,54.49" fill="#fcd7c2"/>
<polygon points="160.64,49.04 165.64,48.92 165.76,54.26 160.76,54.38" fill="#fce3d5"/>
<polygon points="165.64,48.92 170.63,48.81 170.76,54.15 165.76,54.26" fill="#faeee8"/>
<polygon points="170.63,48.81 175.63,48.69 175.75,54.03 170.76,54.15" fill="#eef3f6"/>
<polygon points="175.63,48.69 180.63,48.58 180.75,53.91 175.75,54.03" fill="#e6eff4"/>
<polygon points="180.63,48.58 185.62,48.46 185.75,53.8 180.75,53.91" fill="#eef3f6"/>
<polygon points="150.77,54.61 155.77,54.49 155.89,59.84 150.89,59.95" fill="#fcd7c2"/>
<polygon points="155.77,54.49 160.76,54.38 160.89,59.72 155.89,59.84" fill="#fcd7c2"/>
<polygon points="160.76,54.38 165.76,54.26 165.88,59.6 160.89,59.72" fill="#faeee8"/>
<polygon points="165.76,54.26 170.76,54.15 170.88,59.49 165.88,59.6" fill="#eef3f6"/>
<polygon points="170.76,54.15 175.75,54.03 175.88,59.37 170.88,59.49" fill="#e6eff4"/>
<polygon points="175.75,54.03 180.75,53.91 180.87,59.25 175.88,59.37" fill="#eef3f6"/>
<polygon points="150.89,59.95 155.89,59.84 156.01,65.18 151.02,65.29" fill="#fcd7c2"/>
<polygon points="155.89,59.84 160.89,59.72 161.01,65.06 156.01,65.18" fill="#fce3d5"/>
<polygon points="160.89,59.72 165.88,59.6 166.01,64.94 161.01,65.06" fill="#faeee8"/>
<polygon points="165.88,59.6 170.88,59.49 171.01,64.83 166.01,64.94" fill="#eef3f6"/>
<polygon points="170.88,59.49 175.88,59.37 176,64.71 171.01,64.83" fill="#e6eff4"/>
<polygon points="146.02,65.41 151.02,65.29 151.16,70.64 146.16,70.75" fill="#fcd7c2"/>
<polygon points="151.02,65.29 156.01,65.18 156.16,70.52 151.16,70.64" fill="#fce3d5"/>
<polygon points="156.01,65.18 161.01,65.06 161.15,70.4 156.16,70.52" fill="#faeee8"/>
<polygon points="166.01,64.94 171.01,64.83 171.15,70.17 166.15,70.28" fill="#eef3f6"/>
<polygon points="171.01,64.83 176,64.71 176.15,70.05 171.15,70.17" fill="#eef3f6"/>
<polygon points="210.98,63.89 215.98,63.78 216.12,69.11 211.12,69.23" fill="#dfebf3"/>
<polygon points="146.16,70.75 151.16,70.64 151.32,75.98 146.33,76.1" fill="#fce3d5"/>
<polygon points="151.16,70.64 156.16,70.52 156.32,75.86 151.32,75.98" fill="#fce3d5"/>
<polygon points="156.16,70.52 161.15,70.4 161.32,75.74 156.32,75.86" fill="#faeee8"/>
<polygon points="166.15,70.28 171.15,70.17 171.31,75.51 166.31,75.62" fill="#eef3f6"/>
<polygon points="211.12,69.23 216.12,69.11 216.28,74.45 211.28,74.57" fill="#e6eff4"/>
<polygon points="146.33,76.1 151.32,75.98 151.49,81.32 146.49,81.44" fill="#fce3d5"/>
<polygon points="151.32,75.98 156.32,75.86 156.48,81.2 151.49,81.32" fill="#faeee8"/>
<polygon points="166.31,75.62 171.31,75.51 171.47,80.85 166.48,80.97" fill="#eef3f6"/>
<polygon points="211.28,74.57 216.28,74.45 216.44,79.78 211.45,79.9" fill="#e6eff4"/>
<polygon points="146.49,81.44 151.49,81.32 151.65,86.66 146.66,86.78" fill="#fce3d5"/>
<polygon points="151.49,81.32 156.48,81.2 156.65,86.54 151.65,86.66" fill="#faeee8"/>
<polygon points="166.48,80.97 171.47,80.85 171.64,86.19 166.64,86.31" fill="#eef3f6"/>
<polygon points="211.45,79.9 216.44,79.78 216.6,85.12 211.61,85.24" fill="#e6eff4"/>
<polygon points="146.66,86.78 151.65,86.66 151.82,92 146.82,92.12" fill="#fce3d5"/>
<polygon points="151.65,86.66 156.65,86.54 156.81,91.89 151.82,92" fill="#fce3d5"/>
<polygon points="211.61,85.24 216.6,85.12 216.77,90.45 211.77,90.57" fill="#eef3f6"/>
<polygon points="151.82,92 156.81,91.89 156.98,97.23 151.98,97.35" fill="#fce3d5"/>
<polygon points="206.77,90.69 211.77,90.57 211.93,95.91 206.93,96.03" fill="#e6eff4"/>
<polygon points="211.77,90.57 216.77,90.45 216.93,95.79 211.93,95.91" fill="#e6eff4"/>
<polygon points="151.98,97.35 156.98,97.23 157.14,102.57 152.14,102.69" fill="#fce3d5"/>
<polygon points="211.93,95.91 216.93,95.79 217.09,101.12 212.09,101.25" fill="#e6eff4"/>
<polygon points="152.14,102.69 157.14,102.57 157.3,107.91 152.31,108.03" fill="#faeee8"/>
<polygon points="152.31,108.03 157.3,107.91 157.47,113.25 152.47,113.37" fill="#e6eff4"/>
<polygon points="157.3,107.91 162.3,107.79 162.46,113.13 157.47,113.25" fill="#eef3f6"/>
<polygon points="152.47,113.37 157.47,113.25 157.63,118.59 152.64,118.72" fill="#dfebf3"/>
</g>
<path d="M0.7,0L6.5,209M31.96,0L37.47,209M63.22,0L68.44,209M94.48,0L99.41,209M125.74,0L130.38,209M157,0L161.35,209M188.26,0L192.32,209M219.52,0L223.29,209M0,19.2L219,14.3M0,45.95L219,41.05M0,72.7L219,67.8M0,99.45L219,94.55M0,126.2L219,121.3M0,152.95L219,148.05M0,179.7L219,174.8M0,206.45L219,201.55" stroke="#b0b0b0" stroke-width="1.3" fill="none" opacity="0.9"/>
<polyline points="168.9,209 168.6,197.5 168,190.2 165.6,185.4 163.2,179.3 161.4,174.4 157.7,170.2 152.9,166.5 149,165.9 150.4,162.3 151,159.3 149.8,154.4 148,148.9 147.2,145.9 148.6,142.9 153.5,138.6 157.7,131.9 158.7,125.9 160.1,121 163.8,116.1 166.8,110.2 169.5,102.9 171.5,96.8 174,89.7 175.8,84.5 176.4,79 177.2,74.8 179.1,71.1 181.1,66.9 183,62.1 185.5,57.5 188.1,53.1 192.9,47.1 197.8,43.7 203.9,41.6 208.7,40 211.1,42.2 211.1,44.6 208.1,48.9 205.7,56.8 203.9,67.7 202,79.9 199.9,89 199.9,92 202.6,96.9 205.7,102.9 206,106.6 204.5,110.2 205.1,112.6 206.9,113.3 208.7,109 210.5,107.8 212,110.2 211.8,113.9 209.3,117 207.5,118.6 205.1,121.6 205.7,125.9 204.7,130.7 205.7,134.4 208.7,137.4 212.4,138 215.4,136.2 217.8,131.9 220,127.5" fill="none" stroke="#7f7f7f" stroke-width="1.4" stroke-linejoin="round"/>
</g></g>
<rect x="0" y="0" width="219" height="209" fill="none" stroke="#000" stroke-width="1" shape-rendering="crispEdges"/>
<text class="t" x="109" y="-29.6" text-anchor="middle"><tspan dx="0.8">q [K hr </tspan><tspan dy="-7.9" font-size="11.7">−1</tspan><tspan dy="7.9">]</tspan></text>
<text class="k" x="0.5" y="-10.5" text-anchor="middle">112.5°E</text>
<text class="k" x="63.04" y="-10.5" text-anchor="middle">113°E</text>
<text class="k" x="125.58" y="-10.5" text-anchor="middle">113.5°E</text>
<text class="k" x="188.12" y="-10.5" text-anchor="middle">114°E</text>
<text class="k" x="6.65" y="226.1" text-anchor="middle">112.5°E</text>
<text class="k" x="68.65" y="226.1" text-anchor="middle">113°E</text>
<text class="k" x="130.65" y="226.1" text-anchor="middle">113.5°E</text>
<text class="k" x="192.65" y="226.1" text-anchor="middle">114°E</text>
<text class="k l" x="-7.4" y="23.5" text-anchor="end">21.6°S</text>
<text class="k l" x="-7.4" y="50.25" text-anchor="end">21.8°S</text>
<text class="k l" x="-7.4" y="77" text-anchor="end">22°S</text>
<text class="k l" x="-7.4" y="103.75" text-anchor="end">22.2°S</text>
<text class="k l" x="-7.4" y="130.5" text-anchor="end">22.4°S</text>
<text class="k l" x="-7.4" y="157.25" text-anchor="end">22.6°S</text>
<text class="k l" x="-7.4" y="184" text-anchor="end">22.8°S</text>
<text class="k l" x="-7.4" y="210.75" text-anchor="end">23°S</text>
<linearGradient id="g2" x1="0" y1="1" x2="0" y2="0"><stop offset="0" stop-color="#053061"/><stop offset="0.2" stop-color="#2f79b5"/><stop offset="0.4" stop-color="#a7d0e4"/><stop offset="0.5" stop-color="#f7f7f7"/><stop offset="0.6" stop-color="#f7b799"/><stop offset="0.8" stop-color="#c13639"/><stop offset="1" stop-color="#67001f"/></linearGradient>
<rect x="233.05" y="79.85" width="1.9" height="49" fill="url(#g2)" stroke="#000" stroke-width="0.9"/>
<path d="M234.95,119.83h5.3" stroke="#000" stroke-width="0.9"/>
<text class="k" x="245.35" y="124.23">−0.25</text>
<path d="M234.95,104.75h5.3" stroke="#000" stroke-width="0.9"/>
<text class="k" x="245.35" y="109.85">0.00</text>
<path d="M234.95,88.87h5.3" stroke="#000" stroke-width="0.9"/>
<text class="k" x="245.35" y="94.07">0.25</text>
</g>
<g transform="translate(150.5,396.5)">
<clipPath id="c3"><rect x="0" y="0" width="219" height="209"/></clipPath>
<g clip-path="url(#c3)"><g transform="translate(0,0)">
<rect x="-2" y="-2" width="223" height="213" fill="#97b6e1"/>
<polygon points="168.9,209 168.6,197.5 168,190.2 165.6,185.4 163.2,179.3 161.4,174.4 157.7,170.2 152.9,166.5 149,165.9 150.4,162.3 151,159.3 149.8,154.4 148,148.9 147.2,145.9 148.6,142.9 153.5,138.6 157.7,131.9 158.7,125.9 160.1,121 163.8,116.1 166.8,110.2 169.5,102.9 171.5,96.8 174,89.7 175.8,84.5 176.4,79 177.2,74.8 179.1,71.1 181.1,66.9 183,62.1 185.5,57.5 188.1,53.1 192.9,47.1 197.8,43.7 203.9,41.6 208.7,40 211.1,42.2 211.1,44.6 208.1,48.9 205.7,56.8 203.9,67.7 202,79.9 199.9,89 199.9,92 202.6,96.9 205.7,102.9 206,106.6 204.5,110.2 205.1,112.6 206.9,113.3 208.7,109 210.5,107.8 212,110.2 211.8,113.9 209.3,117 207.5,118.6 205.1,121.6 205.7,125.9 204.7,130.7 205.7,134.4 208.7,137.4 212.4,138 215.4,136.2 217.8,131.9 220,127.5 221,211" fill="#efefdb"/>
<polygon points="5.5,208.1 5.33,202.74 5.16,197.38 4.99,192.03 4.82,186.67 4.65,181.31 4.48,175.95 4.31,170.59 4.14,165.24 3.97,159.88 3.8,154.52 3.63,149.16 3.46,143.81 3.29,138.45 3.12,133.09 2.95,127.73 2.78,122.37 2.61,117.02 2.44,111.66 2.27,106.3 2.1,100.94 1.93,95.58 1.76,90.23 1.59,84.87 1.42,79.51 1.25,74.15 1.11,68.79 0.99,63.44 0.88,58.08 0.76,52.72 0.64,47.36 0.52,42.01 0.41,36.65 0.29,31.29 0.17,25.93 0.05,20.57 -0.06,15.22 -0.18,9.86 -0.3,4.5 214.47,-0.25 214.6,5.09 214.72,10.42 214.85,15.76 214.97,21.09 215.1,26.43 215.22,31.76 215.35,37.1 215.47,42.43 215.6,47.77 215.73,53.11 215.85,58.44 215.98,63.78 216.12,69.11 216.28,74.45 216.44,79.78 216.6,85.12 216.77,90.45 216.93,95.79 217.09,101.12 217.25,106.46 217.41,111.8 217.57,117.13 217.73,122.47 217.89,127.8 218.05,133.14 218.22,138.47 218.38,143.81 218.54,149.14 218.7,154.48 218.86,159.82 219.02,165.15 219.18,170.49 219.34,175.82 219.51,181.16 219.67,186.49 219.83,191.83 219.99,197.16 220.15,202.5" fill="#e9f6ab" shape-rendering="crispEdges"/>
<g shape-rendering="crispEdges">
<polygon points="164.52,0.85 169.52,0.74 169.64,6.08 164.65,6.2" fill="#cda650"/>
<polygon points="169.52,0.74 174.51,0.63 174.64,5.97 169.64,6.08" fill="#cda650"/>
<polygon points="174.51,0.63 179.51,0.52 179.63,5.86 174.64,5.97" fill="#b07c3a"/>
<polygon points="179.51,0.52 184.5,0.41 184.63,5.75 179.63,5.86" fill="#b07c3a"/>
<polygon points="184.5,0.41 189.5,0.3 189.62,5.64 184.63,5.75" fill="#b07c3a"/>
<polygon points="189.5,0.3 194.49,0.19 194.62,5.53 189.62,5.64" fill="#b07c3a"/>
<polygon points="194.49,0.19 199.49,0.08 199.61,5.42 194.62,5.53" fill="#b07c3a"/>
<polygon points="199.49,0.08 204.48,-0.03 204.61,5.31 199.61,5.42" fill="#b07c3a"/>
<polygon points="204.48,-0.03 209.48,-0.14 209.6,5.2 204.61,5.31" fill="#a87438"/>
<polygon points="209.48,-0.14 214.47,-0.25 214.6,5.09 209.6,5.2" fill="#a87438"/>
<polygon points="164.65,6.2 169.64,6.08 169.77,11.42 164.77,11.54" fill="#cda650"/>
<polygon points="169.64,6.08 174.64,5.97 174.76,11.31 169.77,11.42" fill="#cda650"/>
<polygon points="174.64,5.97 179.63,5.86 179.76,11.2 174.76,11.31" fill="#b07c3a"/>
<polygon points="179.63,5.86 184.63,5.75 184.75,11.09 179.76,11.2" fill="#b07c3a"/>
<polygon points="184.63,5.75 189.62,5.64 189.75,10.98 184.75,11.09" fill="#b07c3a"/>
<polygon points="189.62,5.64 194.62,5.53 194.74,10.87 189.75,10.98" fill="#b07c3a"/>
<polygon points="194.62,5.53 199.61,5.42 199.74,10.76 194.74,10.87" fill="#b07c3a"/>
<polygon points="199.61,5.42 204.61,5.31 204.73,10.64 199.74,10.76" fill="#b07c3a"/>
<polygon points="204.61,5.31 209.6,5.2 209.73,10.53 204.73,10.64" fill="#b07c3a"/>
<polygon points="209.6,5.2 214.6,5.09 214.72,10.42 209.73,10.53" fill="#b07c3a"/>
<polygon points="164.77,11.54 169.77,11.42 169.89,16.76 164.89,16.88" fill="#c29442"/>
<polygon points="169.77,11.42 174.76,11.31 174.89,16.65 169.89,16.76" fill="#b8863c"/>
<polygon points="174.76,11.31 179.76,11.2 179.88,16.54 174.89,16.65" fill="#b07c3a"/>
<polygon points="179.76,11.2 184.75,11.09 184.88,16.43 179.88,16.54" fill="#b07c3a"/>
<polygon points="184.75,11.09 189.75,10.98 189.87,16.32 184.88,16.43" fill="#b07c3a"/>
<polygon points="189.75,10.98 194.74,10.87 194.87,16.2 189.87,16.32" fill="#b07c3a"/>
<polygon points="194.74,10.87 199.74,10.76 199.86,16.09 194.87,16.2" fill="#b8863c"/>
<polygon points="199.74,10.76 204.73,10.64 204.86,15.98 199.86,16.09" fill="#b8863c"/>
<polygon points="204.73,10.64 209.73,10.53 209.85,15.87 204.86,15.98" fill="#b07c3a"/>
<polygon points="209.73,10.53 214.72,10.42 214.85,15.76 209.85,15.87" fill="#b07c3a"/>
<polygon points="159.9,16.99 164.89,16.88 165.02,22.22 160.02,22.33" fill="#c29442"/>
<polygon points="164.89,16.88 169.89,16.76 170.01,22.11 165.02,22.22" fill="#d8bf62"/>
<polygon points="169.89,16.76 174.89,16.65 175.01,21.99 170.01,22.11" fill="#c29442"/>
<polygon points="174.89,16.65 179.88,16.54 180,21.88 175.01,21.99" fill="#b07c3a"/>
<polygon points="179.88,16.54 184.88,16.43 185,21.77 180,21.88" fill="#b07c3a"/>
<polygon points="184.88,16.43 189.87,16.32 190,21.65 185,21.77" fill="#b07c3a"/>
<polygon points="189.87,16.32 194.87,16.2 194.99,21.54 190,21.65" fill="#b07c3a"/>
<polygon points="194.87,16.2 199.86,16.09 199.99,21.43 194.99,21.54" fill="#b07c3a"/>
<polygon points="199.86,16.09 204.86,15.98 204.98,21.32 199.99,21.43" fill="#b07c3a"/>
<polygon points="204.86,15.98 209.85,15.87 209.98,21.2 204.98,21.32" fill="#b07c3a"/>
<polygon points="209.85,15.87 214.85,15.76 214.97,21.09 209.98,21.2" fill="#b07c3a"/>
<polygon points="160.02,22.33 165.02,22.22 165.14,27.56 160.15,27.67" fill="#cda650"/>
<polygon points="165.02,22.22 170.01,22.11 170.14,27.45 165.14,27.56" fill="#cda650"/>
<polygon points="170.01,22.11 175.01,21.99 175.13,27.33 170.14,27.45" fill="#b8863c"/>
<polygon points="175.01,21.99 180,21.88 180.13,27.22 175.13,27.33" fill="#b07c3a"/>
<polygon points="180,21.88 185,21.77 185.12,27.11 180.13,27.22" fill="#b07c3a"/>
<polygon points="185,21.77 190,21.65 190.12,26.99 185.12,27.11" fill="#b07c3a"/>
<polygon points="190,21.65 194.99,21.54 195.12,26.88 190.12,26.99" fill="#b07c3a"/>
<polygon points="194.99,21.54 199.99,21.43 200.11,26.77 195.12,26.88" fill="#b07c3a"/>
<polygon points="199.99,21.43 204.98,21.32 205.11,26.65 200.11,26.77" fill="#b07c3a"/>
<polygon points="204.98,21.32 209.98,21.2 210.1,26.54 205.11,26.65" fill="#b07c3a"/>
<polygon points="209.98,21.2 214.97,21.09 215.1,26.43 210.1,26.54" fill="#b07c3a"/>
<polygon points="160.15,27.67 165.14,27.56 165.27,32.9 160.27,33.01" fill="#d8bf62"/>
<polygon points="165.14,27.56 170.14,27.45 170.26,32.79 165.27,32.9" fill="#cda650"/>
<polygon points="170.14,27.45 175.13,27.33 175.26,32.67 170.26,32.79" fill="#b8863c"/>
<polygon points="175.13,27.33 180.13,27.22 180.25,32.56 175.26,32.67" fill="#b07c3a"/>
<polygon points="180.13,27.22 185.12,27.11 185.25,32.44 180.25,32.56" fill="#b07c3a"/>
<polygon points="185.12,27.11 190.12,26.99 190.24,32.33 185.25,32.44" fill="#b07c3a"/>
<polygon points="190.12,26.99 195.12,26.88 195.24,32.22 190.24,32.33" fill="#b07c3a"/>
<polygon points="195.12,26.88 200.11,26.77 200.24,32.1 195.24,32.22" fill="#b07c3a"/>
<polygon points="200.11,26.77 205.11,26.65 205.23,31.99 200.24,32.1" fill="#b07c3a"/>
<polygon points="205.11,26.65 210.1,26.54 210.23,31.88 205.23,31.99" fill="#b07c3a"/>
<polygon points="210.1,26.54 215.1,26.43 215.22,31.76 210.23,31.88" fill="#b07c3a"/>
<polygon points="155.27,33.13 160.27,33.01 160.39,38.35 155.4,38.47" fill="#cda650"/>
<polygon points="160.27,33.01 165.27,32.9 165.39,38.24 160.39,38.35" fill="#d8bf62"/>
<polygon points="165.27,32.9 170.26,32.79 170.39,38.13 165.39,38.24" fill="#c29442"/>
<polygon points="170.26,32.79 175.26,32.67 175.38,38.01 170.39,38.13" fill="#b07c3a"/>
<polygon points="175.26,32.67 180.25,32.56 180.38,37.9 175.38,38.01" fill="#b07c3a"/>
<polygon points="180.25,32.56 185.25,32.44 185.37,37.78 180.38,37.9" fill="#b07c3a"/>
<polygon points="185.25,32.44 190.24,32.33 190.37,37.67 185.37,37.78" fill="#b07c3a"/>
<polygon points="190.24,32.33 195.24,32.22 195.37,37.56 190.37,37.67" fill="#b07c3a"/>
<polygon points="195.24,32.22 200.24,32.1 200.36,37.44 195.37,37.56" fill="#b07c3a"/>
<polygon points="200.24,32.1 205.23,31.99 205.36,37.33 200.36,37.44" fill="#b07c3a"/>
<polygon points="210.23,31.88 215.22,31.76 215.35,37.1 210.35,37.21" fill="#b07c3a"/>
<polygon points="155.4,38.47 160.39,38.35 160.52,43.7 155.52,43.81" fill="#cda650"/>
<polygon points="160.39,38.35 165.39,38.24 165.51,43.58 160.52,43.7" fill="#d8bf62"/>
<polygon points="165.39,38.24 170.39,38.13 170.51,43.47 165.51,43.58" fill="#b8863c"/>
<polygon points="170.39,38.13 175.38,38.01 175.51,43.35 170.51,43.47" fill="#b07c3a"/>
<polygon points="175.38,38.01 180.38,37.9 180.5,43.24 175.51,43.35" fill="#b07c3a"/>
<polygon points="180.38,37.9 185.37,37.78 185.5,43.12 180.5,43.24" fill="#b07c3a"/>
<polygon points="185.37,37.78 190.37,37.67 190.49,43.01 185.5,43.12" fill="#b07c3a"/>
<polygon points="190.37,37.67 195.37,37.56 195.49,42.89 190.49,43.01" fill="#b07c3a"/>
<polygon points="150.52,43.92 155.52,43.81 155.64,49.15 150.65,49.27" fill="#b8863c"/>
<polygon points="155.52,43.81 160.52,43.7 160.64,49.04 155.64,49.15" fill="#c29442"/>
<polygon points="160.52,43.7 165.51,43.58 165.64,48.92 160.64,49.04" fill="#cda650"/>
<polygon points="165.51,43.58 170.51,43.47 170.63,48.81 165.64,48.92" fill="#b8863c"/>
<polygon points="170.51,43.47 175.51,43.35 175.63,48.69 170.63,48.81" fill="#b07c3a"/>
<polygon points="175.51,43.35 180.5,43.24 180.63,48.58 175.63,48.69" fill="#b07c3a"/>
<polygon points="180.5,43.24 185.5,43.12 185.62,48.46 180.63,48.58" fill="#b07c3a"/>
<polygon points="185.5,43.12 190.49,43.01 190.62,48.35 185.62,48.46" fill="#b07c3a"/>
<polygon points="150.65,49.27 155.64,49.15 155.77,54.49 150.77,54.61" fill="#b8863c"/>
<polygon points="155.64,49.15 160.64,49.04 160.76,54.38 155.77,54.49" fill="#c29442"/>
<polygon points="160.64,49.04 165.64,48.92 165.76,54.26 160.76,54.38" fill="#b8863c"/>
<polygon points="165.64,48.92 170.63,48.81 170.76,54.15 165.76,54.26" fill="#b07c3a"/>
<polygon points="170.63,48.81 175.63,48.69 175.75,54.03 170.76,54.15" fill="#b07c3a"/>
<polygon points="175.63,48.69 180.63,48.58 180.75,53.91 175.75,54.03" fill="#b07c3a"/>
<polygon points="180.63,48.58 185.62,48.46 185.75,53.8 180.75,53.91" fill="#b07c3a"/>
<polygon points="150.77,54.61 155.77,54.49 155.89,59.84 150.89,59.95" fill="#b8863c"/>
<polygon points="155.77,54.49 160.76,54.38 160.89,59.72 155.89,59.84" fill="#b8863c"/>
<polygon points="160.76,54.38 165.76,54.26 165.88,59.6 160.89,59.72" fill="#b07c3a"/>
<polygon points="165.76,54.26 170.76,54.15 170.88,59.49 165.88,59.6" fill="#b07c3a"/>
<polygon points="170.76,54.15 175.75,54.03 175.88,59.37 170.88,59.49" fill="#b07c3a"/>
<polygon points="175.75,54.03 180.75,53.91 180.87,59.25 175.88,59.37" fill="#b07c3a"/>
<polygon points="150.89,59.95 155.89,59.84 156.01,65.18 151.02,65.29" fill="#b8863c"/>
<polygon points="155.89,59.84 160.89,59.72 161.01,65.06 156.01,65.18" fill="#b8863c"/>
<polygon points="160.89,59.72 165.88,59.6 166.01,64.94 161.01,65.06" fill="#b07c3a"/>
<polygon points="165.88,59.6 170.88,59.49 171.01,64.83 166.01,64.94" fill="#b07c3a"/>
<polygon points="170.88,59.49 175.88,59.37 176,64.71 171.01,64.83" fill="#b07c3a"/>
<polygon points="146.02,65.41 151.02,65.29 151.16,70.64 146.16,70.75" fill="#b8863c"/>
<polygon points="151.02,65.29 156.01,65.18 156.16,70.52 151.16,70.64" fill="#b8863c"/>
<polygon points="156.01,65.18 161.01,65.06 161.15,70.4 156.16,70.52" fill="#b07c3a"/>
<polygon points="161.01,65.06 166.01,64.94 166.15,70.28 161.15,70.4" fill="#b8863c"/>
<polygon points="166.01,64.94 171.01,64.83 171.15,70.17 166.15,70.28" fill="#b07c3a"/>
<polygon points="171.01,64.83 176,64.71 176.15,70.05 171.15,70.17" fill="#b07c3a"/>
<polygon points="210.98,63.89 215.98,63.78 216.12,69.11 211.12,69.23" fill="#b07c3a"/>
<polygon points="146.16,70.75 151.16,70.64 151.32,75.98 146.33,76.1" fill="#c29442"/>
<polygon points="151.16,70.64 156.16,70.52 156.32,75.86 151.32,75.98" fill="#b8863c"/>
<polygon points="156.16,70.52 161.15,70.4 161.32,75.74 156.32,75.86" fill="#b07c3a"/>
<polygon points="161.15,70.4 166.15,70.28 166.31,75.62 161.32,75.74" fill="#b07c3a"/>
<polygon points="166.15,70.28 171.15,70.17 171.31,75.51 166.31,75.62" fill="#b07c3a"/>
<polygon points="211.12,69.23 216.12,69.11 216.28,74.45 211.28,74.57" fill="#b07c3a"/>
<polygon points="146.33,76.1 151.32,75.98 151.49,81.32 146.49,81.44" fill="#b8863c"/>
<polygon points="151.32,75.98 156.32,75.86 156.48,81.2 151.49,81.32" fill="#b8863c"/>
<polygon points="156.32,75.86 161.32,75.74 161.48,81.08 156.48,81.2" fill="#b07c3a"/>
<polygon points="161.32,75.74 166.31,75.62 166.48,80.97 161.48,81.08" fill="#b8863c"/>
<polygon points="166.31,75.62 171.31,75.51 171.47,80.85 166.48,80.97" fill="#b07c3a"/>
<polygon points="211.28,74.57 216.28,74.45 216.44,79.78 211.45,79.9" fill="#b07c3a"/>
<polygon points="146.49,81.44 151.49,81.32 151.65,86.66 146.66,86.78" fill="#b8863c"/>
<polygon points="151.49,81.32 156.48,81.2 156.65,86.54 151.65,86.66" fill="#b8863c"/>
<polygon points="156.48,81.2 161.48,81.08 161.64,86.43 156.65,86.54" fill="#c29442"/>
<polygon points="161.48,81.08 166.48,80.97 166.64,86.31 161.64,86.43" fill="#b07c3a"/>
<polygon points="166.48,80.97 171.47,80.85 171.64,86.19 166.64,86.31" fill="#b07c3a"/>
<polygon points="211.45,79.9 216.44,79.78 216.6,85.12 211.61,85.24" fill="#b07c3a"/>
<polygon points="146.66,86.78 151.65,86.66 151.82,92 146.82,92.12" fill="#b8863c"/>
<polygon points="151.65,86.66 156.65,86.54 156.81,91.89 151.82,92" fill="#b8863c"/>
<polygon points="156.65,86.54 161.64,86.43 161.81,91.77 156.81,91.89" fill="#b07c3a"/>
<polygon points="161.64,86.43 166.64,86.31 166.8,91.65 161.81,91.77" fill="#b07c3a"/>
<polygon points="211.61,85.24 216.6,85.12 216.77,90.45 211.77,90.57" fill="#b07c3a"/>
<polygon points="151.82,92 156.81,91.89 156.98,97.23 151.98,97.35" fill="#b8863c"/>
<polygon points="156.81,91.89 161.81,91.77 161.97,97.11 156.98,97.23" fill="#b07c3a"/>
<polygon points="161.81,91.77 166.8,91.65 166.97,96.99 161.97,97.11" fill="#b07c3a"/>
<polygon points="206.77,90.69 211.77,90.57 211.93,95.91 206.93,96.03" fill="#b07c3a"/>
<polygon points="211.77,90.57 216.77,90.45 216.93,95.79 211.93,95.91" fill="#b07c3a"/>
<polygon points="151.98,97.35 156.98,97.23 157.14,102.57 152.14,102.69" fill="#b8863c"/>
<polygon points="156.98,97.23 161.97,97.11 162.14,102.45 157.14,102.57" fill="#b07c3a"/>
<polygon points="211.93,95.91 216.93,95.79 217.09,101.12 212.09,101.25" fill="#b07c3a"/>
<polygon points="152.14,102.69 157.14,102.57 157.3,107.91 152.31,108.03" fill="#b8863c"/>
<polygon points="157.14,102.57 162.14,102.45 162.3,107.79 157.3,107.91" fill="#b07c3a"/>
<polygon points="152.31,108.03 157.3,107.91 157.47,113.25 152.47,113.37" fill="#b07c3a"/>
<polygon points="157.3,107.91 162.3,107.79 162.46,113.13 157.47,113.25" fill="#b07c3a"/>
<polygon points="152.47,113.37 157.47,113.25 157.63,118.59 152.64,118.72" fill="#b07c3a"/>
</g>
<path d="M0.7,0L6.5,209M31.96,0L37.47,209M63.22,0L68.44,209M94.48,0L99.41,209M125.74,0L130.38,209M157,0L161.35,209M188.26,0L192.32,209M219.52,0L223.29,209M0,19.2L219,14.3M0,45.95L219,41.05M0,72.7L219,67.8M0,99.45L219,94.55M0,126.2L219,121.3M0,152.95L219,148.05M0,179.7L219,174.8M0,206.45L219,201.55" stroke="#b0b0b0" stroke-width="1.3" fill="none" opacity="0.9"/>
<polyline points="168.9,209 168.6,197.5 168,190.2 165.6,185.4 163.2,179.3 161.4,174.4 157.7,170.2 152.9,166.5 149,165.9 150.4,162.3 151,159.3 149.8,154.4 148,148.9 147.2,145.9 148.6,142.9 153.5,138.6 157.7,131.9 158.7,125.9 160.1,121 163.8,116.1 166.8,110.2 169.5,102.9 171.5,96.8 174,89.7 175.8,84.5 176.4,79 177.2,74.8 179.1,71.1 181.1,66.9 183,62.1 185.5,57.5 188.1,53.1 192.9,47.1 197.8,43.7 203.9,41.6 208.7,40 211.1,42.2 211.1,44.6 208.1,48.9 205.7,56.8 203.9,67.7 202,79.9 199.9,89 199.9,92 202.6,96.9 205.7,102.9 206,106.6 204.5,110.2 205.1,112.6 206.9,113.3 208.7,109 210.5,107.8 212,110.2 211.8,113.9 209.3,117 207.5,118.6 205.1,121.6 205.7,125.9 204.7,130.7 205.7,134.4 208.7,137.4 212.4,138 215.4,136.2 217.8,131.9 220,127.5" fill="none" stroke="#7f7f7f" stroke-width="1.4" stroke-linejoin="round"/>
</g></g>
<rect x="0" y="0" width="219" height="209" fill="none" stroke="#000" stroke-width="1" shape-rendering="crispEdges"/>
<text class="t" x="109" y="-29.6" text-anchor="middle">u std. [m/s]</text>
<text class="k" x="0.5" y="-10.5" text-anchor="middle">112.5°E</text>
<text class="k" x="63.04" y="-10.5" text-anchor="middle">113°E</text>
<text class="k" x="125.58" y="-10.5" text-anchor="middle">113.5°E</text>
<text class="k" x="188.12" y="-10.5" text-anchor="middle">114°E</text>
<text class="k" x="6.65" y="226.1" text-anchor="middle">112.5°E</text>
<text class="k" x="68.65" y="226.1" text-anchor="middle">113°E</text>
<text class="k" x="130.65" y="226.1" text-anchor="middle">113.5°E</text>
<text class="k" x="192.65" y="226.1" text-anchor="middle">114°E</text>
<text class="k l" x="-7.4" y="23.5" text-anchor="end">21.6°S</text>
<text class="k l" x="-7.4" y="50.25" text-anchor="end">21.8°S</text>
<text class="k l" x="-7.4" y="77" text-anchor="end">22°S</text>
<text class="k l" x="-7.4" y="103.75" text-anchor="end">22.2°S</text>
<text class="k l" x="-7.4" y="130.5" text-anchor="end">22.4°S</text>
<text class="k l" x="-7.4" y="157.25" text-anchor="end">22.6°S</text>
<text class="k l" x="-7.4" y="184" text-anchor="end">22.8°S</text>
<text class="k l" x="-7.4" y="210.75" text-anchor="end">23°S</text>
<linearGradient id="g3" x1="0" y1="1" x2="0" y2="0"><stop offset="0" stop-color="#e9f6ab"/><stop offset="0.25" stop-color="#cdb35c"/><stop offset="0.5" stop-color="#b07b3c"/><stop offset="0.75" stop-color="#70502f"/><stop offset="1" stop-color="#221f1b"/></linearGradient>
<rect x="233.05" y="79.85" width="1.9" height="49" fill="url(#g3)" stroke="#000" stroke-width="0.9"/>
<path d="M234.95,128.85h5.3" stroke="#000" stroke-width="0.9"/>
<text class="k" x="245.35" y="133.25">0.0</text>
<path d="M234.95,79.85h5.3" stroke="#000" stroke-width="0.9"/>
<text class="k" x="245.35" y="85.05">0.5</text>
</g>
<g transform="translate(478.5,396.5)">
<clipPath id="c4"><rect x="0" y="0" width="219" height="209"/></clipPath>
<g clip-path="url(#c4)"><g transform="translate(0.17,0)">
<rect x="-2" y="-2" width="223" height="213" fill="#97b6e1"/>
<polygon points="168.9,209 168.6,197.5 168,190.2 165.6,185.4 163.2,179.3 161.4,174.4 157.7,170.2 152.9,166.5 149,165.9 150.4,162.3 151,159.3 149.8,154.4 148,148.9 147.2,145.9 148.6,142.9 153.5,138.6 157.7,131.9 158.7,125.9 160.1,121 163.8,116.1 166.8,110.2 169.5,102.9 171.5,96.8 174,89.7 175.8,84.5 176.4,79 177.2,74.8 179.1,71.1 181.1,66.9 183,62.1 185.5,57.5 188.1,53.1 192.9,47.1 197.8,43.7 203.9,41.6 208.7,40 211.1,42.2 211.1,44.6 208.1,48.9 205.7,56.8 203.9,67.7 202,79.9 199.9,89 199.9,92 202.6,96.9 205.7,102.9 206,106.6 204.5,110.2 205.1,112.6 206.9,113.3 208.7,109 210.5,107.8 212,110.2 211.8,113.9 209.3,117 207.5,118.6 205.1,121.6 205.7,125.9 204.7,130.7 205.7,134.4 208.7,137.4 212.4,138 215.4,136.2 217.8,131.9 220,127.5 221,211" fill="#efefdb"/>
<polygon points="5.5,208.1 5.33,202.74 5.16,197.38 4.99,192.03 4.82,186.67 4.65,181.31 4.48,175.95 4.31,170.59 4.14,165.24 3.97,159.88 3.8,154.52 3.63,149.16 3.46,143.81 3.29,138.45 3.12,133.09 2.95,127.73 2.78,122.37 2.61,117.02 2.44,111.66 2.27,106.3 2.1,100.94 1.93,95.58 1.76,90.23 1.59,84.87 1.42,79.51 1.25,74.15 1.11,68.79 0.99,63.44 0.88,58.08 0.76,52.72 0.64,47.36 0.52,42.01 0.41,36.65 0.29,31.29 0.17,25.93 0.05,20.57 -0.06,15.22 -0.18,9.86 -0.3,4.5 214.47,-0.25 214.6,5.09 214.72,10.42 214.85,15.76 214.97,21.09 215.1,26.43 215.22,31.76 215.35,37.1 215.47,42.43 215.6,47.77 215.73,53.11 215.85,58.44 215.98,63.78 216.12,69.11 216.28,74.45 216.44,79.78 216.6,85.12 216.77,90.45 216.93,95.79 217.09,101.12 217.25,106.46 217.41,111.8 217.57,117.13 217.73,122.47 217.89,127.8 218.05,133.14 218.22,138.47 218.38,143.81 218.54,149.14 218.7,154.48 218.86,159.82 219.02,165.15 219.18,170.49 219.34,175.82 219.51,181.16 219.67,186.49 219.83,191.83 219.99,197.16 220.15,202.5" fill="#e9f6ab" shape-rendering="crispEdges"/>
<g shape-rendering="crispEdges">
<polygon points="164.52,0.85 169.52,0.74 169.64,6.08 164.65,6.2" fill="#b07c3a"/>
<polygon points="169.52,0.74 174.51,0.63 174.64,5.97 169.64,6.08" fill="#b07c3a"/>
<polygon points="174.51,0.63 179.51,0.52 179.63,5.86 174.64,5.97" fill="#b07c3a"/>
<polygon points="179.51,0.52 184.5,0.41 184.63,5.75 179.63,5.86" fill="#b07c3a"/>
<polygon points="184.5,0.41 189.5,0.3 189.62,5.64 184.63,5.75" fill="#b07c3a"/>
<polygon points="189.5,0.3 194.49,0.19 194.62,5.53 189.62,5.64" fill="#b07c3a"/>
<polygon points="194.49,0.19 199.49,0.08 199.61,5.42 194.62,5.53" fill="#b07c3a"/>
<polygon points="199.49,0.08 204.48,-0.03 204.61,5.31 199.61,5.42" fill="#b07c3a"/>
<polygon points="204.48,-0.03 209.48,-0.14 209.6,5.2 204.61,5.31" fill="#b07c3a"/>
<polygon points="209.48,-0.14 214.47,-0.25 214.6,5.09 209.6,5.2" fill="#b07c3a"/>
<polygon points="164.65,6.2 169.64,6.08 169.77,11.42 164.77,11.54" fill="#b07c3a"/>
<polygon points="169.64,6.08 174.64,5.97 174.76,11.31 169.77,11.42" fill="#b07c3a"/>
<polygon points="174.64,5.97 179.63,5.86 179.76,11.2 174.76,11.31" fill="#b07c3a"/>
<polygon points="179.63,5.86 184.63,5.75 184.75,11.09 179.76,11.2" fill="#b07c3a"/>
<polygon points="184.63,5.75 189.62,5.64 189.75,10.98 184.75,11.09" fill="#b07c3a"/>
<polygon points="189.62,5.64 194.62,5.53 194.74,10.87 189.75,10.98" fill="#b07c3a"/>
<polygon points="194.62,5.53 199.61,5.42 199.74,10.76 194.74,10.87" fill="#b07c3a"/>
<polygon points="199.61,5.42 204.61,5.31 204.73,10.64 199.74,10.76" fill="#c29442"/>
<polygon points="204.61,5.31 209.6,5.2 209.73,10.53 204.73,10.64" fill="#c29442"/>
<polygon points="209.6,5.2 214.6,5.09 214.72,10.42 209.73,10.53" fill="#c29442"/>
<polygon points="164.77,11.54 169.77,11.42 169.89,16.76 164.89,16.88" fill="#b07c3a"/>
<polygon points="169.77,11.42 174.76,11.31 174.89,16.65 169.89,16.76" fill="#b07c3a"/>
<polygon points="174.76,11.31 179.76,11.2 179.88,16.54 174.89,16.65" fill="#b07c3a"/>
<polygon points="179.76,11.2 184.75,11.09 184.88,16.43 179.88,16.54" fill="#b07c3a"/>
<polygon points="184.75,11.09 189.75,10.98 189.87,16.32 184.88,16.43" fill="#b07c3a"/>
<polygon points="189.75,10.98 194.74,10.87 194.87,16.2 189.87,16.32" fill="#b07c3a"/>
<polygon points="194.74,10.87 199.74,10.76 199.86,16.09 194.87,16.2" fill="#b07c3a"/>
<polygon points="199.74,10.76 204.73,10.64 204.86,15.98 199.86,16.09" fill="#c29442"/>
<polygon points="204.73,10.64 209.73,10.53 209.85,15.87 204.86,15.98" fill="#c29442"/>
<polygon points="209.73,10.53 214.72,10.42 214.85,15.76 209.85,15.87" fill="#c29442"/>
<polygon points="159.9,16.99 164.89,16.88 165.02,22.22 160.02,22.33" fill="#b07c3a"/>
<polygon points="164.89,16.88 169.89,16.76 170.01,22.11 165.02,22.22" fill="#b07c3a"/>
<polygon points="169.89,16.76 174.89,16.65 175.01,21.99 170.01,22.11" fill="#b07c3a"/>
<polygon points="174.89,16.65 179.88,16.54 180,21.88 175.01,21.99" fill="#b07c3a"/>
<polygon points="179.88,16.54 184.88,16.43 185,21.77 180,21.88" fill="#b07c3a"/>
<polygon points="184.88,16.43 189.87,16.32 190,21.65 185,21.77" fill="#b07c3a"/>
<polygon points="189.87,16.32 194.87,16.2 194.99,21.54 190,21.65" fill="#b07c3a"/>
<polygon points="194.87,16.2 199.86,16.09 199.99,21.43 194.99,21.54" fill="#b07c3a"/>
<polygon points="199.86,16.09 204.86,15.98 204.98,21.32 199.99,21.43" fill="#b07c3a"/>
<polygon points="204.86,15.98 209.85,15.87 209.98,21.2 204.98,21.32" fill="#b07c3a"/>
<polygon points="209.85,15.87 214.85,15.76 214.97,21.09 209.98,21.2" fill="#b8863c"/>
<polygon points="160.02,22.33 165.02,22.22 165.14,27.56 160.15,27.67" fill="#b07c3a"/>
<polygon points="165.02,22.22 170.01,22.11 170.14,27.45 165.14,27.56" fill="#b07c3a"/>
<polygon points="170.01,22.11 175.01,21.99 175.13,27.33 170.14,27.45" fill="#b07c3a"/>
<polygon points="175.01,21.99 180,21.88 180.13,27.22 175.13,27.33" fill="#b07c3a"/>
<polygon points="180,21.88 185,21.77 185.12,27.11 180.13,27.22" fill="#b07c3a"/>
<polygon points="185,21.77 190,21.65 190.12,26.99 185.12,27.11" fill="#b8863c"/>
<polygon points="190,21.65 194.99,21.54 195.12,26.88 190.12,26.99" fill="#b8863c"/>
<polygon points="194.99,21.54 199.99,21.43 200.11,26.77 195.12,26.88" fill="#b8863c"/>
<polygon points="199.99,21.43 204.98,21.32 205.11,26.65 200.11,26.77" fill="#b8863c"/>
<polygon points="204.98,21.32 209.98,21.2 210.1,26.54 205.11,26.65" fill="#b8863c"/>
<polygon points="209.98,21.2 214.97,21.09 215.1,26.43 210.1,26.54" fill="#b8863c"/>
<polygon points="160.15,27.67 165.14,27.56 165.27,32.9 160.27,33.01" fill="#b07c3a"/>
<polygon points="165.14,27.56 170.14,27.45 170.26,32.79 165.27,32.9" fill="#b07c3a"/>
<polygon points="170.14,27.45 175.13,27.33 175.26,32.67 170.26,32.79" fill="#b07c3a"/>
<polygon points="175.13,27.33 180.13,27.22 180.25,32.56 175.26,32.67" fill="#b07c3a"/>
<polygon points="180.13,27.22 185.12,27.11 185.25,32.44 180.25,32.56" fill="#b8863c"/>
<polygon points="185.12,27.11 190.12,26.99 190.24,32.33 185.25,32.44" fill="#b8863c"/>
<polygon points="190.12,26.99 195.12,26.88 195.24,32.22 190.24,32.33" fill="#b8863c"/>
<polygon points="195.12,26.88 200.11,26.77 200.24,32.1 195.24,32.22" fill="#b8863c"/>
<polygon points="200.11,26.77 205.11,26.65 205.23,31.99 200.24,32.1" fill="#b8863c"/>
<polygon points="205.11,26.65 210.1,26.54 210.23,31.88 205.23,31.99" fill="#b8863c"/>
<polygon points="210.1,26.54 215.1,26.43 215.22,31.76 210.23,31.88" fill="#b07c3a"/>
<polygon points="155.27,33.13 160.27,33.01 160.39,38.35 155.4,38.47" fill="#b07c3a"/>
<polygon points="160.27,33.01 165.27,32.9 165.39,38.24 160.39,38.35" fill="#b07c3a"/>
<polygon points="165.27,32.9 170.26,32.79 170.39,38.13 165.39,38.24" fill="#c29442"/>
<polygon points="170.26,32.79 175.26,32.67 175.38,38.01 170.39,38.13" fill="#c29442"/>
<polygon points="175.26,32.67 180.25,32.56 180.38,37.9 175.38,38.01" fill="#b8863c"/>
<polygon points="180.25,32.56 185.25,32.44 185.37,37.78 180.38,37.9" fill="#b8863c"/>
<polygon points="185.25,32.44 190.24,32.33 190.37,37.67 185.37,37.78" fill="#b8863c"/>
<polygon points="190.24,32.33 195.24,32.22 195.37,37.56 190.37,37.67" fill="#c29442"/>
<polygon points="195.24,32.22 200.24,32.1 200.36,37.44 195.37,37.56" fill="#c29442"/>
<polygon points="200.24,32.1 205.23,31.99 205.36,37.33 200.36,37.44" fill="#b8863c"/>
<polygon points="210.23,31.88 215.22,31.76 215.35,37.1 210.35,37.21" fill="#b07c3a"/>
<polygon points="155.4,38.47 160.39,38.35 160.52,43.7 155.52,43.81" fill="#b07c3a"/>
<polygon points="160.39,38.35 165.39,38.24 165.51,43.58 160.52,43.7" fill="#b8863c"/>
<polygon points="165.39,38.24 170.39,38.13 170.51,43.47 165.51,43.58" fill="#c29442"/>
<polygon points="170.39,38.13 175.38,38.01 175.51,43.35 170.51,43.47" fill="#c29442"/>
<polygon points="175.38,38.01 180.38,37.9 180.5,43.24 175.51,43.35" fill="#c29442"/>
<polygon points="180.38,37.9 185.37,37.78 185.5,43.12 180.5,43.24" fill="#c29442"/>
<polygon points="185.37,37.78 190.37,37.67 190.49,43.01 185.5,43.12" fill="#c29442"/>
<polygon points="190.37,37.67 195.37,37.56 195.49,42.89 190.49,43.01" fill="#b8863c"/>
<polygon points="150.52,43.92 155.52,43.81 155.64,49.15 150.65,49.27" fill="#c29442"/>
<polygon points="155.52,43.81 160.52,43.7 160.64,49.04 155.64,49.15" fill="#b8863c"/>
<polygon points="160.52,43.7 165.51,43.58 165.64,48.92 160.64,49.04" fill="#b8863c"/>
<polygon points="165.51,43.58 170.51,43.47 170.63,48.81 165.64,48.92" fill="#b8863c"/>
<polygon points="170.51,43.47 175.51,43.35 175.63,48.69 170.63,48.81" fill="#c29442"/>
<polygon points="175.51,43.35 180.5,43.24 180.63,48.58 175.63,48.69" fill="#c29442"/>
<polygon points="180.5,43.24 185.5,43.12 185.62,48.46 180.63,48.58" fill="#b8863c"/>
<polygon points="185.5,43.12 190.49,43.01 190.62,48.35 185.62,48.46" fill="#b8863c"/>
<polygon points="150.65,49.27 155.64,49.15 155.77,54.49 150.77,54.61" fill="#b8863c"/>
<polygon points="155.64,49.15 160.64,49.04 160.76,54.38 155.77,54.49" fill="#c29442"/>
<polygon points="160.64,49.04 165.64,48.92 165.76,54.26 160.76,54.38" fill="#c29442"/>
<polygon points="165.64,48.92 170.63,48.81 170.76,54.15 165.76,54.26" fill="#c29442"/>
<polygon points="170.63,48.81 175.63,48.69 175.75,54.03 170.76,54.15" fill="#c29442"/>
<polygon points="175.63,48.69 180.63,48.58 180.75,53.91 175.75,54.03" fill="#c29442"/>
<polygon points="180.63,48.58 185.62,48.46 185.75,53.8 180.75,53.91" fill="#b8863c"/>
<polygon points="150.77,54.61 155.77,54.49 155.89,59.84 150.89,59.95" fill="#b07c3a"/>
<polygon points="155.77,54.49 160.76,54.38 160.89,59.72 155.89,59.84" fill="#c29442"/>
<polygon points="160.76,54.38 165.76,54.26 165.88,59.6 160.89,59.72" fill="#cda650"/>
<polygon points="165.76,54.26 170.76,54.15 170.88,59.49 165.88,59.6" fill="#c29442"/>
<polygon points="170.76,54.15 175.75,54.03 175.88,59.37 170.88,59.49" fill="#c29442"/>
<polygon points="175.75,54.03 180.75,53.91 180.87,59.25 175.88,59.37" fill="#b8863c"/>
<polygon points="150.89,59.95 155.89,59.84 156.01,65.18 151.02,65.29" fill="#c29442"/>
<polygon points="155.89,59.84 160.89,59.72 161.01,65.06 156.01,65.18" fill="#b8863c"/>
<polygon points="160.89,59.72 165.88,59.6 166.01,64.94 161.01,65.06" fill="#c29442"/>
<polygon points="165.88,59.6 170.88,59.49 171.01,64.83 166.01,64.94" fill="#c29442"/>
<polygon points="170.88,59.49 175.88,59.37 176,64.71 171.01,64.83" fill="#b8863c"/>
<polygon points="146.02,65.41 151.02,65.29 151.16,70.64 146.16,70.75" fill="#c29442"/>
<polygon points="151.02,65.29 156.01,65.18 156.16,70.52 151.16,70.64" fill="#c29442"/>
<polygon points="156.01,65.18 161.01,65.06 161.15,70.4 156.16,70.52" fill="#b8863c"/>
<polygon points="161.01,65.06 166.01,64.94 166.15,70.28 161.15,70.4" fill="#b8863c"/>
<polygon points="166.01,64.94 171.01,64.83 171.15,70.17 166.15,70.28" fill="#b07c3a"/>
<polygon points="171.01,64.83 176,64.71 176.15,70.05 171.15,70.17" fill="#b07c3a"/>
<polygon points="210.98,63.89 215.98,63.78 216.12,69.11 211.12,69.23" fill="#cda650"/>
<polygon points="146.16,70.75 151.16,70.64 151.32,75.98 146.33,76.1" fill="#c29442"/>
<polygon points="151.16,70.64 156.16,70.52 156.32,75.86 151.32,75.98" fill="#c29442"/>
<polygon points="156.16,70.52 161.15,70.4 161.32,75.74 156.32,75.86" fill="#b8863c"/>
<polygon points="161.15,70.4 166.15,70.28 166.31,75.62 161.32,75.74" fill="#c29442"/>
<polygon points="166.15,70.28 171.15,70.17 171.31,75.51 166.31,75.62" fill="#b8863c"/>
<polygon points="211.12,69.23 216.12,69.11 216.28,74.45 211.28,74.57" fill="#c29442"/>
<polygon points="146.33,76.1 151.32,75.98 151.49,81.32 146.49,81.44" fill="#b8863c"/>
<polygon points="151.32,75.98 156.32,75.86 156.48,81.2 151.49,81.32" fill="#b8863c"/>
<polygon points="156.32,75.86 161.32,75.74 161.48,81.08 156.48,81.2" fill="#b8863c"/>
<polygon points="161.32,75.74 166.31,75.62 166.48,80.97 161.48,81.08" fill="#c29442"/>
<polygon points="166.31,75.62 171.31,75.51 171.47,80.85 166.48,80.97" fill="#c29442"/>
<polygon points="211.28,74.57 216.28,74.45 216.44,79.78 211.45,79.9" fill="#cda650"/>
<polygon points="146.49,81.44 151.49,81.32 151.65,86.66 146.66,86.78" fill="#b07c3a"/>
<polygon points="151.49,81.32 156.48,81.2 156.65,86.54 151.65,86.66" fill="#b07c3a"/>
<polygon points="156.48,81.2 161.48,81.08 161.64,86.43 156.65,86.54" fill="#b07c3a"/>
<polygon points="161.48,81.08 166.48,80.97 166.64,86.31 161.64,86.43" fill="#c29442"/>
<polygon points="166.48,80.97 171.47,80.85 171.64,86.19 166.64,86.31" fill="#c29442"/>
<polygon points="211.45,79.9 216.44,79.78 216.6,85.12 211.61,85.24" fill="#cda650"/>
<polygon points="146.66,86.78 151.65,86.66 151.82,92 146.82,92.12" fill="#b07c3a"/>
<polygon points="151.65,86.66 156.65,86.54 156.81,91.89 151.82,92" fill="#b07c3a"/>
<polygon points="156.65,86.54 161.64,86.43 161.81,91.77 156.81,91.89" fill="#b07c3a"/>
<polygon points="161.64,86.43 166.64,86.31 166.8,91.65 161.81,91.77" fill="#b8863c"/>
<polygon points="211.61,85.24 216.6,85.12 216.77,90.45 211.77,90.57" fill="#c29442"/>
<polygon points="151.82,92 156.81,91.89 156.98,97.23 151.98,97.35" fill="#b07c3a"/>
<polygon points="156.81,91.89 161.81,91.77 161.97,97.11 156.98,97.23" fill="#b07c3a"/>
<polygon points="161.81,91.77 166.8,91.65 166.97,96.99 161.97,97.11" fill="#b07c3a"/>
<polygon points="206.77,90.69 211.77,90.57 211.93,95.91 206.93,96.03" fill="#b8863c"/>
<polygon points="211.77,90.57 216.77,90.45 216.93,95.79 211.93,95.91" fill="#cda650"/>
<polygon points="151.98,97.35 156.98,97.23 157.14,102.57 152.14,102.69" fill="#b07c3a"/>
<polygon points="156.98,97.23 161.97,97.11 162.14,102.45 157.14,102.57" fill="#b07c3a"/>
<polygon points="211.93,95.91 216.93,95.79 217.09,101.12 212.09,101.25" fill="#cda650"/>
<polygon points="152.14,102.69 157.14,102.57 157.3,107.91 152.31,108.03" fill="#b8863c"/>
<polygon points="157.14,102.57 162.14,102.45 162.3,107.79 157.3,107.91" fill="#b07c3a"/>
<polygon points="152.31,108.03 157.3,107.91 157.47,113.25 152.47,113.37" fill="#c29442"/>
<polygon points="157.3,107.91 162.3,107.79 162.46,113.13 157.47,113.25" fill="#b8863c"/>
<polygon points="152.47,113.37 157.47,113.25 157.63,118.59 152.64,118.72" fill="#b07c3a"/>
</g>
<path d="M0.7,0L6.5,209M31.96,0L37.47,209M63.22,0L68.44,209M94.48,0L99.41,209M125.74,0L130.38,209M157,0L161.35,209M188.26,0L192.32,209M219.52,0L223.29,209M0,19.2L219,14.3M0,45.95L219,41.05M0,72.7L219,67.8M0,99.45L219,94.55M0,126.2L219,121.3M0,152.95L219,148.05M0,179.7L219,174.8M0,206.45L219,201.55" stroke="#b0b0b0" stroke-width="1.3" fill="none" opacity="0.9"/>
<polyline points="168.9,209 168.6,197.5 168,190.2 165.6,185.4 163.2,179.3 161.4,174.4 157.7,170.2 152.9,166.5 149,165.9 150.4,162.3 151,159.3 149.8,154.4 148,148.9 147.2,145.9 148.6,142.9 153.5,138.6 157.7,131.9 158.7,125.9 160.1,121 163.8,116.1 166.8,110.2 169.5,102.9 171.5,96.8 174,89.7 175.8,84.5 176.4,79 177.2,74.8 179.1,71.1 181.1,66.9 183,62.1 185.5,57.5 188.1,53.1 192.9,47.1 197.8,43.7 203.9,41.6 208.7,40 211.1,42.2 211.1,44.6 208.1,48.9 205.7,56.8 203.9,67.7 202,79.9 199.9,89 199.9,92 202.6,96.9 205.7,102.9 206,106.6 204.5,110.2 205.1,112.6 206.9,113.3 208.7,109 210.5,107.8 212,110.2 211.8,113.9 209.3,117 207.5,118.6 205.1,121.6 205.7,125.9 204.7,130.7 205.7,134.4 208.7,137.4 212.4,138 215.4,136.2 217.8,131.9 220,127.5" fill="none" stroke="#7f7f7f" stroke-width="1.4" stroke-linejoin="round"/>
</g></g>
<rect x="0" y="0" width="219" height="209" fill="none" stroke="#000" stroke-width="1" shape-rendering="crispEdges"/>
<text class="t" x="109" y="-29.6" text-anchor="middle">v std. [m/s]</text>
<text class="k" x="0.5" y="-10.5" text-anchor="middle">112.5°E</text>
<text class="k" x="63.04" y="-10.5" text-anchor="middle">113°E</text>
<text class="k" x="125.58" y="-10.5" text-anchor="middle">113.5°E</text>
<text class="k" x="188.12" y="-10.5" text-anchor="middle">114°E</text>
<text class="k" x="6.65" y="226.1" text-anchor="middle">112.5°E</text>
<text class="k" x="68.65" y="226.1" text-anchor="middle">113°E</text>
<text class="k" x="130.65" y="226.1" text-anchor="middle">113.5°E</text>
<text class="k" x="192.65" y="226.1" text-anchor="middle">114°E</text>
<text class="k l" x="-7.4" y="23.5" text-anchor="end">21.6°S</text>
<text class="k l" x="-7.4" y="50.25" text-anchor="end">21.8°S</text>
<text class="k l" x="-7.4" y="77" text-anchor="end">22°S</text>
<text class="k l" x="-7.4" y="103.75" text-anchor="end">22.2°S</text>
<text class="k l" x="-7.4" y="130.5" text-anchor="end">22.4°S</text>
<text class="k l" x="-7.4" y="157.25" text-anchor="end">22.6°S</text>
<text class="k l" x="-7.4" y="184" text-anchor="end">22.8°S</text>
<text class="k l" x="-7.4" y="210.75" text-anchor="end">23°S</text>
<linearGradient id="g4" x1="0" y1="1" x2="0" y2="0"><stop offset="0" stop-color="#e9f6ab"/><stop offset="0.25" stop-color="#cdb35c"/><stop offset="0.5" stop-color="#b07b3c"/><stop offset="0.75" stop-color="#70502f"/><stop offset="1" stop-color="#221f1b"/></linearGradient>
<rect x="233.05" y="79.85" width="1.9" height="49" fill="url(#g4)" stroke="#000" stroke-width="0.9"/>
<path d="M234.95,128.85h5.3" stroke="#000" stroke-width="0.9"/>
<text class="k" x="245.35" y="133.25">0.0</text>
<path d="M234.95,79.85h5.3" stroke="#000" stroke-width="0.9"/>
<text class="k" x="245.35" y="85.05">0.5</text>
</g>
<g transform="translate(806.5,396.5)">
<clipPath id="c5"><rect x="0" y="0" width="219" height="209"/></clipPath>
<g clip-path="url(#c5)"><g transform="translate(0.6,0)">
<rect x="-2" y="-2" width="223" height="213" fill="#97b6e1"/>
<polygon points="168.9,209 168.6,197.5 168,190.2 165.6,185.4 163.2,179.3 161.4,174.4 157.7,170.2 152.9,166.5 149,165.9 150.4,162.3 151,159.3 149.8,154.4 148,148.9 147.2,145.9 148.6,142.9 153.5,138.6 157.7,131.9 158.7,125.9 160.1,121 163.8,116.1 166.8,110.2 169.5,102.9 171.5,96.8 174,89.7 175.8,84.5 176.4,79 177.2,74.8 179.1,71.1 181.1,66.9 183,62.1 185.5,57.5 188.1,53.1 192.9,47.1 197.8,43.7 203.9,41.6 208.7,40 211.1,42.2 211.1,44.6 208.1,48.9 205.7,56.8 203.9,67.7 202,79.9 199.9,89 199.9,92 202.6,96.9 205.7,102.9 206,106.6 204.5,110.2 205.1,112.6 206.9,113.3 208.7,109 210.5,107.8 212,110.2 211.8,113.9 209.3,117 207.5,118.6 205.1,121.6 205.7,125.9 204.7,130.7 205.7,134.4 208.7,137.4 212.4,138 215.4,136.2 217.8,131.9 220,127.5 221,211" fill="#efefdb"/>
<polygon points="5.5,208.1 5.33,202.74 5.16,197.38 4.99,192.03 4.82,186.67 4.65,181.31 4.48,175.95 4.31,170.59 4.14,165.24 3.97,159.88 3.8,154.52 3.63,149.16 3.46,143.81 3.29,138.45 3.12,133.09 2.95,127.73 2.78,122.37 2.61,117.02 2.44,111.66 2.27,106.3 2.1,100.94 1.93,95.58 1.76,90.23 1.59,84.87 1.42,79.51 1.25,74.15 1.11,68.79 0.99,63.44 0.88,58.08 0.76,52.72 0.64,47.36 0.52,42.01 0.41,36.65 0.29,31.29 0.17,25.93 0.05,20.57 -0.06,15.22 -0.18,9.86 -0.3,4.5 214.47,-0.25 214.6,5.09 214.72,10.42 214.85,15.76 214.97,21.09 215.1,26.43 215.22,31.76 215.35,37.1 215.47,42.43 215.6,47.77 215.73,53.11 215.85,58.44 215.98,63.78 216.12,69.11 216.28,74.45 216.44,79.78 216.6,85.12 216.77,90.45 216.93,95.79 217.09,101.12 217.25,106.46 217.41,111.8 217.57,117.13 217.73,122.47 217.89,127.8 218.05,133.14 218.22,138.47 218.38,143.81 218.54,149.14 218.7,154.48 218.86,159.82 219.02,165.15 219.18,170.49 219.34,175.82 219.51,181.16 219.67,186.49 219.83,191.83 219.99,197.16 220.15,202.5" fill="#fff6f3" shape-rendering="crispEdges"/>
<g shape-rendering="crispEdges">
<polygon points="164.52,0.85 169.52,0.74 169.64,6.08 164.65,6.2" fill="#c2d4b6"/>
<polygon points="169.52,0.74 174.51,0.63 174.64,5.97 169.64,6.08" fill="#dfe3d0"/>
<polygon points="174.51,0.63 179.51,0.52 179.63,5.86 174.64,5.97" fill="#ecebdf"/>
<polygon points="179.51,0.52 184.5,0.41 184.63,5.75 179.63,5.86" fill="#ecebdf"/>
<polygon points="184.5,0.41 189.5,0.3 189.62,5.64 184.63,5.75" fill="#ecebdf"/>
<polygon points="189.5,0.3 194.49,0.19 194.62,5.53 189.62,5.64" fill="#ecebdf"/>
<polygon points="194.49,0.19 199.49,0.08 199.61,5.42 194.62,5.53" fill="#e7e8da"/>
<polygon points="199.49,0.08 204.48,-0.03 204.61,5.31 199.61,5.42" fill="#e7e8da"/>
<polygon points="204.48,-0.03 209.48,-0.14 209.6,5.2 204.61,5.31" fill="#e7e8da"/>
<polygon points="209.48,-0.14 214.47,-0.25 214.6,5.09 209.6,5.2" fill="#e7e8da"/>
<polygon points="164.65,6.2 169.64,6.08 169.77,11.42 164.77,11.54" fill="#c2d4b6"/>
<polygon points="169.64,6.08 174.64,5.97 174.76,11.31 169.77,11.42" fill="#dfe3d0"/>
<polygon points="174.64,5.97 179.63,5.86 179.76,11.2 174.76,11.31" fill="#ecebdf"/>
<polygon points="179.63,5.86 184.63,5.75 184.75,11.09 179.76,11.2" fill="#ecebdf"/>
<polygon points="184.63,5.75 189.62,5.64 189.75,10.98 184.75,11.09" fill="#ecebdf"/>
<polygon points="189.62,5.64 194.62,5.53 194.74,10.87 189.75,10.98" fill="#ecebdf"/>
<polygon points="194.62,5.53 199.61,5.42 199.74,10.76 194.74,10.87" fill="#e7e8da"/>
<polygon points="199.61,5.42 204.61,5.31 204.73,10.64 199.74,10.76" fill="#e7e8da"/>
<polygon points="204.61,5.31 209.6,5.2 209.73,10.53 204.73,10.64" fill="#e7e8da"/>
<polygon points="209.6,5.2 214.6,5.09 214.72,10.42 209.73,10.53" fill="#e7e8da"/>
<polygon points="164.77,11.54 169.77,11.42 169.89,16.76 164.89,16.88" fill="#c2d4b6"/>
<polygon points="169.77,11.42 174.76,11.31 174.89,16.65 169.89,16.76" fill="#dfe3d0"/>
<polygon points="174.76,11.31 179.76,11.2 179.88,16.54 174.89,16.65" fill="#ecebdf"/>
<polygon points="179.76,11.2 184.75,11.09 184.88,16.43 179.88,16.54" fill="#ecebdf"/>
<polygon points="184.75,11.09 189.75,10.98 189.87,16.32 184.88,16.43" fill="#ecebdf"/>
<polygon points="189.75,10.98 194.74,10.87 194.87,16.2 189.87,16.32" fill="#e7e8da"/>
<polygon points="194.74,10.87 199.74,10.76 199.86,16.09 194.87,16.2" fill="#e7e8da"/>
<polygon points="199.74,10.76 204.73,10.64 204.86,15.98 199.86,16.09" fill="#e7e8da"/>
<polygon points="204.73,10.64 209.73,10.53 209.85,15.87 204.86,15.98" fill="#e7e8da"/>
<polygon points="209.73,10.53 214.72,10.42 214.85,15.76 209.85,15.87" fill="#e7e8da"/>
<polygon points="159.9,16.99 164.89,16.88 165.02,22.22 160.02,22.33" fill="#b6ceac"/>
<polygon points="164.89,16.88 169.89,16.76 170.01,22.11 165.02,22.22" fill="#d0dac3"/>
<polygon points="169.89,16.76 174.89,16.65 175.01,21.99 170.01,22.11" fill="#dfe3d0"/>
<polygon points="174.89,16.65 179.88,16.54 180,21.88 175.01,21.99" fill="#ecebdf"/>
<polygon points="179.88,16.54 184.88,16.43 185,21.77 180,21.88" fill="#ecebdf"/>
<polygon points="184.88,16.43 189.87,16.32 190,21.65 185,21.77" fill="#e7e8da"/>
<polygon points="189.87,16.32 194.87,16.2 194.99,21.54 190,21.65" fill="#dfe3d0"/>
<polygon points="194.87,16.2 199.86,16.09 199.99,21.43 194.99,21.54" fill="#dfe3d0"/>
<polygon points="199.86,16.09 204.86,15.98 204.98,21.32 199.99,21.43" fill="#dfe3d0"/>
<polygon points="204.86,15.98 209.85,15.87 209.98,21.2 204.98,21.32" fill="#dfe3d0"/>
<polygon points="209.85,15.87 214.85,15.76 214.97,21.09 209.98,21.2" fill="#dfe3d0"/>
<polygon points="160.02,22.33 165.02,22.22 165.14,27.56 160.15,27.67" fill="#b6ceac"/>
<polygon points="165.02,22.22 170.01,22.11 170.14,27.45 165.14,27.56" fill="#d0dac3"/>
<polygon points="170.01,22.11 175.01,21.99 175.13,27.33 170.14,27.45" fill="#dfe3d0"/>
<polygon points="175.01,21.99 180,21.88 180.13,27.22 175.13,27.33" fill="#e7e8da"/>
<polygon points="180,21.88 185,21.77 185.12,27.11 180.13,27.22" fill="#e7e8da"/>
<polygon points="185,21.77 190,21.65 190.12,26.99 185.12,27.11" fill="#dfe3d0"/>
<polygon points="190,21.65 194.99,21.54 195.12,26.88 190.12,26.99" fill="#dfe3d0"/>
<polygon points="194.99,21.54 199.99,21.43 200.11,26.77 195.12,26.88" fill="#dfe3d0"/>
<polygon points="199.99,21.43 204.98,21.32 205.11,26.65 200.11,26.77" fill="#dfe3d0"/>
<polygon points="204.98,21.32 209.98,21.2 210.1,26.54 205.11,26.65" fill="#dfe3d0"/>
<polygon points="209.98,21.2 214.97,21.09 215.1,26.43 210.1,26.54" fill="#dfe3d0"/>
<polygon points="160.15,27.67 165.14,27.56 165.27,32.9 160.27,33.01" fill="#c2d4b6"/>
<polygon points="165.14,27.56 170.14,27.45 170.26,32.79 165.27,32.9" fill="#d0dac3"/>
<polygon points="170.14,27.45 175.13,27.33 175.26,32.67 170.26,32.79" fill="#dfe3d0"/>
<polygon points="175.13,27.33 180.13,27.22 180.25,32.56 175.26,32.67" fill="#e7e8da"/>
<polygon points="180.13,27.22 185.12,27.11 185.25,32.44 180.25,32.56" fill="#dfe3d0"/>
<polygon points="185.12,27.11 190.12,26.99 190.24,32.33 185.25,32.44" fill="#dfe3d0"/>
<polygon points="190.12,26.99 195.12,26.88 195.24,32.22 190.24,32.33" fill="#d0dac3"/>
<polygon points="195.12,26.88 200.11,26.77 200.24,32.1 195.24,32.22" fill="#d0dac3"/>
<polygon points="200.11,26.77 205.11,26.65 205.23,31.99 200.24,32.1" fill="#d0dac3"/>
<polygon points="205.11,26.65 210.1,26.54 210.23,31.88 205.23,31.99" fill="#d0dac3"/>
<polygon points="210.1,26.54 215.1,26.43 215.22,31.76 210.23,31.88" fill="#d0dac3"/>
<polygon points="155.27,33.13 160.27,33.01 160.39,38.35 155.4,38.47" fill="#b6ceac"/>
<polygon points="160.27,33.01 165.27,32.9 165.39,38.24 160.39,38.35" fill="#c2d4b6"/>
<polygon points="165.27,32.9 170.26,32.79 170.39,38.13 165.39,38.24" fill="#d0dac3"/>
<polygon points="170.26,32.79 175.26,32.67 175.38,38.01 170.39,38.13" fill="#dfe3d0"/>
<polygon points="175.26,32.67 180.25,32.56 180.38,37.9 175.38,38.01" fill="#d0dac3"/>
<polygon points="180.25,32.56 185.25,32.44 185.37,37.78 180.38,37.9" fill="#d0dac3"/>
<polygon points="185.25,32.44 190.24,32.33 190.37,37.67 185.37,37.78" fill="#d0dac3"/>
<polygon points="190.24,32.33 195.24,32.22 195.37,37.56 190.37,37.67" fill="#d0dac3"/>
<polygon points="195.24,32.22 200.24,32.1 200.36,37.44 195.37,37.56" fill="#d0dac3"/>
<polygon points="200.24,32.1 205.23,31.99 205.36,37.33 200.36,37.44" fill="#d0dac3"/>
<polygon points="210.23,31.88 215.22,31.76 215.35,37.1 210.35,37.21" fill="#d0dac3"/>
<polygon points="155.4,38.47 160.39,38.35 160.52,43.7 155.52,43.81" fill="#c2d4b6"/>
<polygon points="160.39,38.35 165.39,38.24 165.51,43.58 160.52,43.7" fill="#d0dac3"/>
<polygon points="165.39,38.24 170.39,38.13 170.51,43.47 165.51,43.58" fill="#d0dac3"/>
<polygon points="170.39,38.13 175.38,38.01 175.51,43.35 170.51,43.47" fill="#c2d4b6"/>
<polygon points="175.38,38.01 180.38,37.9 180.5,43.24 175.51,43.35" fill="#c2d4b6"/>
<polygon points="180.38,37.9 185.37,37.78 185.5,43.12 180.5,43.24" fill="#c2d4b6"/>
<polygon points="185.37,37.78 190.37,37.67 190.49,43.01 185.5,43.12" fill="#c2d4b6"/>
<polygon points="190.37,37.67 195.37,37.56 195.49,42.89 190.49,43.01" fill="#c2d4b6"/>
<polygon points="150.52,43.92 155.52,43.81 155.64,49.15 150.65,49.27" fill="#d0dac3"/>
<polygon points="155.52,43.81 160.52,43.7 160.64,49.04 155.64,49.15" fill="#dfe3d0"/>
<polygon points="160.52,43.7 165.51,43.58 165.64,48.92 160.64,49.04" fill="#d0dac3"/>
<polygon points="165.51,43.58 170.51,43.47 170.63,48.81 165.64,48.92" fill="#d0dac3"/>
<polygon points="170.51,43.47 175.51,43.35 175.63,48.69 170.63,48.81" fill="#c2d4b6"/>
<polygon points="175.51,43.35 180.5,43.24 180.63,48.58 175.63,48.69" fill="#c2d4b6"/>
<polygon points="180.5,43.24 185.5,43.12 185.62,48.46 180.63,48.58" fill="#b6ceac"/>
<polygon points="185.5,43.12 190.49,43.01 190.62,48.35 185.62,48.46" fill="#b6ceac"/>
<polygon points="150.65,49.27 155.64,49.15 155.77,54.49 150.77,54.61" fill="#dfe3d0"/>
<polygon points="155.64,49.15 160.64,49.04 160.76,54.38 155.77,54.49" fill="#dfe3d0"/>
<polygon points="160.64,49.04 165.64,48.92 165.76,54.26 160.76,54.38" fill="#d0dac3"/>
<polygon points="165.64,48.92 170.63,48.81 170.76,54.15 165.76,54.26" fill="#d0dac3"/>
<polygon points="170.63,48.81 175.63,48.69 175.75,54.03 170.76,54.15" fill="#c2d4b6"/>
<polygon points="175.63,48.69 180.63,48.58 180.75,53.91 175.75,54.03" fill="#c2d4b6"/>
<polygon points="180.63,48.58 185.62,48.46 185.75,53.8 180.75,53.91" fill="#c2d4b6"/>
<polygon points="150.77,54.61 155.77,54.49 155.89,59.84 150.89,59.95" fill="#e7e8da"/>
<polygon points="155.77,54.49 160.76,54.38 160.89,59.72 155.89,59.84" fill="#dfe3d0"/>
<polygon points="160.76,54.38 165.76,54.26 165.88,59.6 160.89,59.72" fill="#dfe3d0"/>
<polygon points="165.76,54.26 170.76,54.15 170.88,59.49 165.88,59.6" fill="#d0dac3"/>
<polygon points="170.76,54.15 175.75,54.03 175.88,59.37 170.88,59.49" fill="#d0dac3"/>
<polygon points="175.75,54.03 180.75,53.91 180.87,59.25 175.88,59.37" fill="#c2d4b6"/>
<polygon points="150.89,59.95 155.89,59.84 156.01,65.18 151.02,65.29" fill="#dfe3d0"/>
<polygon points="155.89,59.84 160.89,59.72 161.01,65.06 156.01,65.18" fill="#dfe3d0"/>
<polygon points="160.89,59.72 165.88,59.6 166.01,64.94 161.01,65.06" fill="#dfe3d0"/>
<polygon points="165.88,59.6 170.88,59.49 171.01,64.83 166.01,64.94" fill="#d0dac3"/>
<polygon points="170.88,59.49 175.88,59.37 176,64.71 171.01,64.83" fill="#d0dac3"/>
<polygon points="146.02,65.41 151.02,65.29 151.16,70.64 146.16,70.75" fill="#d0dac3"/>
<polygon points="151.02,65.29 156.01,65.18 156.16,70.52 151.16,70.64" fill="#dfe3d0"/>
<polygon points="156.01,65.18 161.01,65.06 161.15,70.4 156.16,70.52" fill="#dfe3d0"/>
<polygon points="161.01,65.06 166.01,64.94 166.15,70.28 161.15,70.4" fill="#d0dac3"/>
<polygon points="166.01,64.94 171.01,64.83 171.15,70.17 166.15,70.28" fill="#d0dac3"/>
<polygon points="171.01,64.83 176,64.71 176.15,70.05 171.15,70.17" fill="#d0dac3"/>
<polygon points="210.98,63.89 215.98,63.78 216.12,69.11 211.12,69.23" fill="#c2d4b6"/>
<polygon points="146.16,70.75 151.16,70.64 151.32,75.98 146.33,76.1" fill="#d0dac3"/>
<polygon points="151.16,70.64 156.16,70.52 156.32,75.86 151.32,75.98" fill="#d0dac3"/>
<polygon points="156.16,70.52 161.15,70.4 161.32,75.74 156.32,75.86" fill="#dfe3d0"/>
<polygon points="161.15,70.4 166.15,70.28 166.31,75.62 161.32,75.74" fill="#dfe3d0"/>
<polygon points="166.15,70.28 171.15,70.17 171.31,75.51 166.31,75.62" fill="#d0dac3"/>
<polygon points="211.12,69.23 216.12,69.11 216.28,74.45 211.28,74.57" fill="#dfe3d0"/>
<polygon points="146.33,76.1 151.32,75.98 151.49,81.32 146.49,81.44" fill="#dfe3d0"/>
<polygon points="151.32,75.98 156.32,75.86 156.48,81.2 151.49,81.32" fill="#dfe3d0"/>
<polygon points="156.32,75.86 161.32,75.74 161.48,81.08 156.48,81.2" fill="#e7e8da"/>
<polygon points="161.32,75.74 166.31,75.62 166.48,80.97 161.48,81.08" fill="#dfe3d0"/>
<polygon points="166.31,75.62 171.31,75.51 171.47,80.85 166.48,80.97" fill="#d0dac3"/>
<polygon points="211.28,74.57 216.28,74.45 216.44,79.78 211.45,79.9" fill="#e7e8da"/>
<polygon points="146.49,81.44 151.49,81.32 151.65,86.66 146.66,86.78" fill="#e7e8da"/>
<polygon points="151.49,81.32 156.48,81.2 156.65,86.54 151.65,86.66" fill="#e7e8da"/>
<polygon points="156.48,81.2 161.48,81.08 161.64,86.43 156.65,86.54" fill="#e7e8da"/>
<polygon points="161.48,81.08 166.48,80.97 166.64,86.31 161.64,86.43" fill="#dfe3d0"/>
<polygon points="166.48,80.97 171.47,80.85 171.64,86.19 166.64,86.31" fill="#d0dac3"/>
<polygon points="211.45,79.9 216.44,79.78 216.6,85.12 211.61,85.24" fill="#e7e8da"/>
<polygon points="146.66,86.78 151.65,86.66 151.82,92 146.82,92.12" fill="#e7e8da"/>
<polygon points="151.65,86.66 156.65,86.54 156.81,91.89 151.82,92" fill="#e7e8da"/>
<polygon points="156.65,86.54 161.64,86.43 161.81,91.77 156.81,91.89" fill="#e7e8da"/>
<polygon points="161.64,86.43 166.64,86.31 166.8,91.65 161.81,91.77" fill="#dfe3d0"/>
<polygon points="211.61,85.24 216.6,85.12 216.77,90.45 211.77,90.57" fill="#e7e8da"/>
<polygon points="151.82,92 156.81,91.89 156.98,97.23 151.98,97.35" fill="#e7e8da"/>
<polygon points="156.81,91.89 161.81,91.77 161.97,97.11 156.98,97.23" fill="#e7e8da"/>
<polygon points="161.81,91.77 166.8,91.65 166.97,96.99 161.97,97.11" fill="#dfe3d0"/>
<polygon points="206.77,90.69 211.77,90.57 211.93,95.91 206.93,96.03" fill="#c2d4b6"/>
<polygon points="211.77,90.57 216.77,90.45 216.93,95.79 211.93,95.91" fill="#c2d4b6"/>
<polygon points="151.98,97.35 156.98,97.23 157.14,102.57 152.14,102.69" fill="#ecebdf"/>
<polygon points="156.98,97.23 161.97,97.11 162.14,102.45 157.14,102.57" fill="#e7e8da"/>
<polygon points="211.93,95.91 216.93,95.79 217.09,101.12 212.09,101.25" fill="#b6ceac"/>
<polygon points="152.14,102.69 157.14,102.57 157.3,107.91 152.31,108.03" fill="#e7e8da"/>
<polygon points="157.14,102.57 162.14,102.45 162.3,107.79 157.3,107.91" fill="#dfe3d0"/>
<polygon points="152.31,108.03 157.3,107.91 157.47,113.25 152.47,113.37" fill="#dfe3d0"/>
<polygon points="157.3,107.91 162.3,107.79 162.46,113.13 157.47,113.25" fill="#dfe3d0"/>
<polygon points="152.47,113.37 157.47,113.25 157.63,118.59 152.64,118.72" fill="#d0dac3"/>
</g>
<path d="M0.7,0L6.5,209M31.96,0L37.47,209M63.22,0L68.44,209M94.48,0L99.41,209M125.74,0L130.38,209M157,0L161.35,209M188.26,0L192.32,209M219.52,0L223.29,209M0,19.2L219,14.3M0,45.95L219,41.05M0,72.7L219,67.8M0,99.45L219,94.55M0,126.2L219,121.3M0,152.95L219,148.05M0,179.7L219,174.8M0,206.45L219,201.55" stroke="#b0b0b0" stroke-width="1.3" fill="none" opacity="0.9"/>
<polyline points="168.9,209 168.6,197.5 168,190.2 165.6,185.4 163.2,179.3 161.4,174.4 157.7,170.2 152.9,166.5 149,165.9 150.4,162.3 151,159.3 149.8,154.4 148,148.9 147.2,145.9 148.6,142.9 153.5,138.6 157.7,131.9 158.7,125.9 160.1,121 163.8,116.1 166.8,110.2 169.5,102.9 171.5,96.8 174,89.7 175.8,84.5 176.4,79 177.2,74.8 179.1,71.1 181.1,66.9 183,62.1 185.5,57.5 188.1,53.1 192.9,47.1 197.8,43.7 203.9,41.6 208.7,40 211.1,42.2 211.1,44.6 208.1,48.9 205.7,56.8 203.9,67.7 202,79.9 199.9,89 199.9,92 202.6,96.9 205.7,102.9 206,106.6 204.5,110.2 205.1,112.6 206.9,113.3 208.7,109 210.5,107.8 212,110.2 211.8,113.9 209.3,117 207.5,118.6 205.1,121.6 205.7,125.9 204.7,130.7 205.7,134.4 208.7,137.4 212.4,138 215.4,136.2 217.8,131.9 220,127.5" fill="none" stroke="#7f7f7f" stroke-width="1.4" stroke-linejoin="round"/>
</g></g>
<rect x="0" y="0" width="219" height="209" fill="none" stroke="#000" stroke-width="1" shape-rendering="crispEdges"/>
<text class="t" x="109" y="-29.6" text-anchor="middle"><tspan dx="0.8">q std. [K hr </tspan><tspan dy="-7.9" font-size="11.7">−1</tspan><tspan dy="7.9">]</tspan></text>
<text class="k" x="0.5" y="-10.5" text-anchor="middle">112.5°E</text>
<text class="k" x="63.04" y="-10.5" text-anchor="middle">113°E</text>
<text class="k" x="125.58" y="-10.5" text-anchor="middle">113.5°E</text>
<text class="k" x="188.12" y="-10.5" text-anchor="middle">114°E</text>
<text class="k" x="6.65" y="226.1" text-anchor="middle">112.5°E</text>
<text class="k" x="68.65" y="226.1" text-anchor="middle">113°E</text>
<text class="k" x="130.65" y="226.1" text-anchor="middle">113.5°E</text>
<text class="k" x="192.65" y="226.1" text-anchor="middle">114°E</text>
<text class="k l" x="-7.4" y="23.5" text-anchor="end">21.6°S</text>
<text class="k l" x="-7.4" y="50.25" text-anchor="end">21.8°S</text>
<text class="k l" x="-7.4" y="77" text-anchor="end">22°S</text>
<text class="k l" x="-7.4" y="103.75" text-anchor="end">22.2°S</text>
<text class="k l" x="-7.4" y="130.5" text-anchor="end">22.4°S</text>
<text class="k l" x="-7.4" y="157.25" text-anchor="end">22.6°S</text>
<text class="k l" x="-7.4" y="184" text-anchor="end">22.8°S</text>
<text class="k l" x="-7.4" y="210.75" text-anchor="end">23°S</text>
<linearGradient id="g5" x1="0" y1="1" x2="0" y2="0"><stop offset="0" stop-color="#fff6f4"/><stop offset="0.25" stop-color="#b5cfae"/><stop offset="0.5" stop-color="#4c9e7f"/><stop offset="0.75" stop-color="#1b6471"/><stop offset="1" stop-color="#151d44"/></linearGradient>
<rect x="233.05" y="79.85" width="1.9" height="49" fill="url(#g5)" stroke="#000" stroke-width="0.9"/>
<path d="M234.95,128.85h5.3" stroke="#000" stroke-width="0.9"/>
<text class="k" x="245.35" y="133.25">0.0</text>
<path d="M234.95,79.85h5.3" stroke="#000" stroke-width="0.9"/>
<text class="k" x="245.35" y="85.05">0.1</text>
</g>
</svg></body></html>
